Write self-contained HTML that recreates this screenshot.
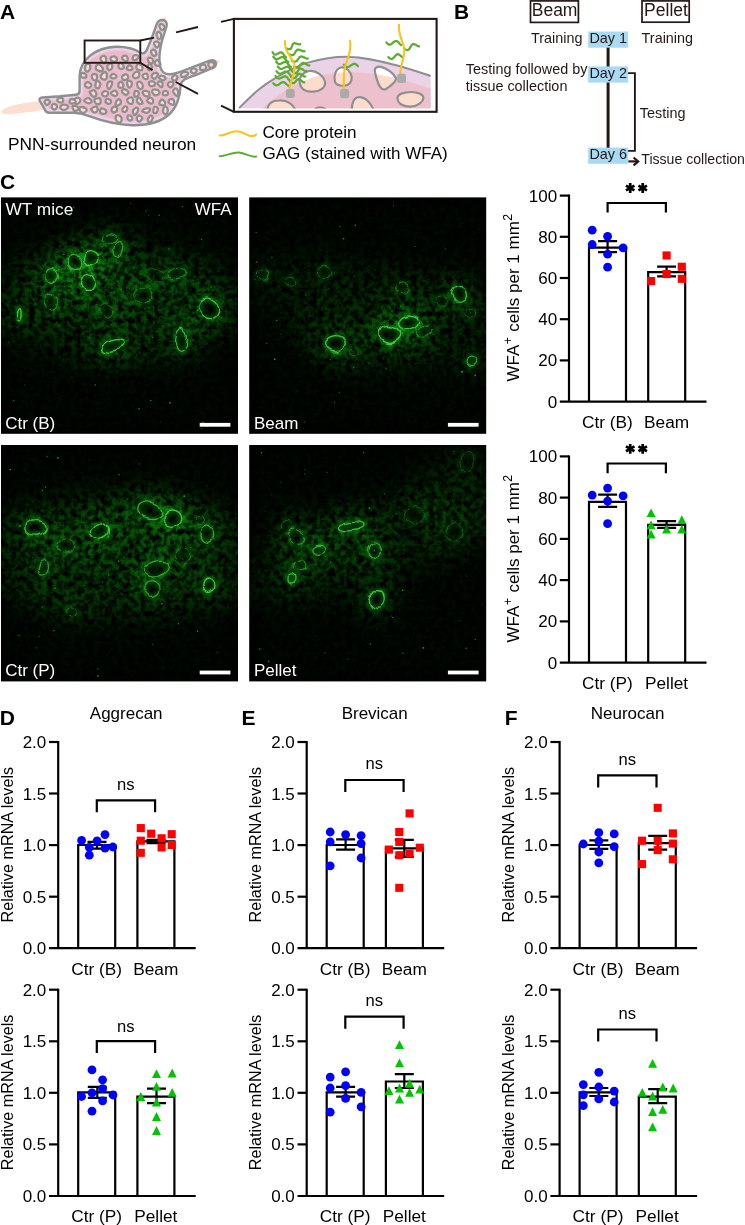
<!DOCTYPE html>
<html><head><meta charset="utf-8"><title>Figure</title>
<style>
html,body{margin:0;padding:0;background:#fff;}
body{width:745px;height:1225px;overflow:hidden;font-family:"Liberation Sans",sans-serif;}
svg{display:block;will-change:transform;}
svg text{font-family:"Liberation Sans",sans-serif;}
</style></head><body>
<svg width="745" height="1225" viewBox="0 0 745 1225">
<defs>
<clipPath id="neuclip"><path d="M42.4 97.5 L60 96.3 L76 94.8 Q79.5 94.4 79.6 91 L79.6 76 C80 60 95 47.5 116 46.7 C126 46.5 134 48.5 140.5 52.8 Q144 54.6 146.3 51 L151.8 38 L156.6 24.5 Q158.2 20 162 20 Q167.6 20.3 166.7 26 L161.6 42 C158.8 55 157.6 67 163.4 72.4 C168 76.2 176 73.5 185 70 L209.6 60.7 Q215.8 58.9 216.0 63.9 Q215.8 67.2 211.5 68.5 L195 75.3 C186 78.5 181 80 180.5 86 C180.5 97 176 108 169 114.5 C160 122.5 146 125.5 132 125.2 C115 124.5 100 120 90 116.3 C84 114 80 113 74 112.8 L49.5 112.7 Q46.4 112.8 45.2 110.2 L39.7 100.6 Q38.4 97.8 42.4 97.5 Z"/></clipPath>
<clipPath id="insclip"><rect x="238.6" y="19" width="192.2" height="89.6"/></clipPath>
<clipPath id="pinkclip"><path d="M262 108.8 C275 97 285 90 297.5 84 C312 77 325 73 345 72.3 C360 72 370 73.5 378 74.4 C395 77 415 83 430.8 89 L430.8 108.8Z"/></clipPath>
<clipPath id="mc1"><rect x="1.0" y="197.4" width="237.0" height="236.4"/></clipPath>
<filter id="mg1" filterUnits="userSpaceOnUse" x="1.0" y="197.4" width="237.0" height="236.4" color-interpolation-filters="sRGB"><feGaussianBlur in="SourceGraphic" stdDeviation="13" result="m"/><feTurbulence type="fractalNoise" baseFrequency="0.17" numOctaves="3" seed="3" result="t"/><feColorMatrix in="t" type="matrix" values="0 0.256 0 0 -0.090  0 3.2 0 0 -1.12  0 0.256 0 0 -0.090  0 0 0 0 1" result="n1"/><feTurbulence type="turbulence" baseFrequency="0.11" numOctaves="2" seed="8" result="t2"/><feColorMatrix in="t2" type="matrix" values="0 -0.2 0 0 0.07  0 -2.6 0 0 0.86  0 -0.2 0 0 0.07  0 0 0 0 1" result="n2"/><feComposite in="n1" in2="n2" operator="arithmetic" k1="0" k2="0.8" k3="0.55" k4="0" result="n"/><feComposite in="n" in2="m" operator="arithmetic" k1="1" k2="0" k3="0" k4="0" result="g"/><feGaussianBlur in="g" stdDeviation="0.55"/></filter>
<filter id="wob1" filterUnits="userSpaceOnUse" x="1.0" y="197.4" width="237.0" height="236.4" color-interpolation-filters="sRGB"><feTurbulence type="fractalNoise" baseFrequency="0.045" numOctaves="2" seed="14" result="t"/><feDisplacementMap in="SourceGraphic" in2="t" scale="9" xChannelSelector="R" yChannelSelector="G" result="d"/><feGaussianBlur in="d" stdDeviation="0.7"/></filter>
<filter id="halo1" filterUnits="userSpaceOnUse" x="1.0" y="197.4" width="237.0" height="236.4" color-interpolation-filters="sRGB"><feTurbulence type="fractalNoise" baseFrequency="0.045" numOctaves="2" seed="14" result="t"/><feDisplacementMap in="SourceGraphic" in2="t" scale="9" xChannelSelector="R" yChannelSelector="G" result="d"/><feGaussianBlur in="d" stdDeviation="2.0"/></filter>
<clipPath id="mc2"><rect x="249.2" y="197.4" width="237.0" height="236.4"/></clipPath>
<filter id="mg2" filterUnits="userSpaceOnUse" x="249.2" y="197.4" width="237.0" height="236.4" color-interpolation-filters="sRGB"><feGaussianBlur in="SourceGraphic" stdDeviation="13" result="m"/><feTurbulence type="fractalNoise" baseFrequency="0.17" numOctaves="3" seed="8" result="t"/><feColorMatrix in="t" type="matrix" values="0 0.256 0 0 -0.092  0 3.2 0 0 -1.15  0 0.256 0 0 -0.092  0 0 0 0 1" result="n1"/><feTurbulence type="turbulence" baseFrequency="0.11" numOctaves="2" seed="13" result="t2"/><feColorMatrix in="t2" type="matrix" values="0 -0.2 0 0 0.07  0 -2.6 0 0 0.86  0 -0.2 0 0 0.07  0 0 0 0 1" result="n2"/><feComposite in="n1" in2="n2" operator="arithmetic" k1="0" k2="0.8" k3="0.55" k4="0" result="n"/><feComposite in="n" in2="m" operator="arithmetic" k1="1" k2="0" k3="0" k4="0" result="g"/><feGaussianBlur in="g" stdDeviation="0.55"/></filter>
<filter id="wob2" filterUnits="userSpaceOnUse" x="249.2" y="197.4" width="237.0" height="236.4" color-interpolation-filters="sRGB"><feTurbulence type="fractalNoise" baseFrequency="0.045" numOctaves="2" seed="19" result="t"/><feDisplacementMap in="SourceGraphic" in2="t" scale="9" xChannelSelector="R" yChannelSelector="G" result="d"/><feGaussianBlur in="d" stdDeviation="0.7"/></filter>
<filter id="halo2" filterUnits="userSpaceOnUse" x="249.2" y="197.4" width="237.0" height="236.4" color-interpolation-filters="sRGB"><feTurbulence type="fractalNoise" baseFrequency="0.045" numOctaves="2" seed="19" result="t"/><feDisplacementMap in="SourceGraphic" in2="t" scale="9" xChannelSelector="R" yChannelSelector="G" result="d"/><feGaussianBlur in="d" stdDeviation="2.0"/></filter>
<clipPath id="mc3"><rect x="1.0" y="445.0" width="237.0" height="236.4"/></clipPath>
<filter id="mg3" filterUnits="userSpaceOnUse" x="1.0" y="445.0" width="237.0" height="236.4" color-interpolation-filters="sRGB"><feGaussianBlur in="SourceGraphic" stdDeviation="13" result="m"/><feTurbulence type="fractalNoise" baseFrequency="0.17" numOctaves="3" seed="21" result="t"/><feColorMatrix in="t" type="matrix" values="0 0.256 0 0 -0.090  0 3.2 0 0 -1.12  0 0.256 0 0 -0.090  0 0 0 0 1" result="n1"/><feTurbulence type="turbulence" baseFrequency="0.11" numOctaves="2" seed="26" result="t2"/><feColorMatrix in="t2" type="matrix" values="0 -0.2 0 0 0.07  0 -2.6 0 0 0.86  0 -0.2 0 0 0.07  0 0 0 0 1" result="n2"/><feComposite in="n1" in2="n2" operator="arithmetic" k1="0" k2="0.8" k3="0.55" k4="0" result="n"/><feComposite in="n" in2="m" operator="arithmetic" k1="1" k2="0" k3="0" k4="0" result="g"/><feGaussianBlur in="g" stdDeviation="0.55"/></filter>
<filter id="wob3" filterUnits="userSpaceOnUse" x="1.0" y="445.0" width="237.0" height="236.4" color-interpolation-filters="sRGB"><feTurbulence type="fractalNoise" baseFrequency="0.045" numOctaves="2" seed="32" result="t"/><feDisplacementMap in="SourceGraphic" in2="t" scale="9" xChannelSelector="R" yChannelSelector="G" result="d"/><feGaussianBlur in="d" stdDeviation="0.7"/></filter>
<filter id="halo3" filterUnits="userSpaceOnUse" x="1.0" y="445.0" width="237.0" height="236.4" color-interpolation-filters="sRGB"><feTurbulence type="fractalNoise" baseFrequency="0.045" numOctaves="2" seed="32" result="t"/><feDisplacementMap in="SourceGraphic" in2="t" scale="9" xChannelSelector="R" yChannelSelector="G" result="d"/><feGaussianBlur in="d" stdDeviation="2.0"/></filter>
<clipPath id="mc4"><rect x="249.2" y="445.0" width="237.0" height="236.4"/></clipPath>
<filter id="mg4" filterUnits="userSpaceOnUse" x="249.2" y="445.0" width="237.0" height="236.4" color-interpolation-filters="sRGB"><feGaussianBlur in="SourceGraphic" stdDeviation="13" result="m"/><feTurbulence type="fractalNoise" baseFrequency="0.17" numOctaves="3" seed="33" result="t"/><feColorMatrix in="t" type="matrix" values="0 0.256 0 0 -0.092  0 3.2 0 0 -1.15  0 0.256 0 0 -0.092  0 0 0 0 1" result="n1"/><feTurbulence type="turbulence" baseFrequency="0.11" numOctaves="2" seed="38" result="t2"/><feColorMatrix in="t2" type="matrix" values="0 -0.2 0 0 0.07  0 -2.6 0 0 0.86  0 -0.2 0 0 0.07  0 0 0 0 1" result="n2"/><feComposite in="n1" in2="n2" operator="arithmetic" k1="0" k2="0.8" k3="0.55" k4="0" result="n"/><feComposite in="n" in2="m" operator="arithmetic" k1="1" k2="0" k3="0" k4="0" result="g"/><feGaussianBlur in="g" stdDeviation="0.55"/></filter>
<filter id="wob4" filterUnits="userSpaceOnUse" x="249.2" y="445.0" width="237.0" height="236.4" color-interpolation-filters="sRGB"><feTurbulence type="fractalNoise" baseFrequency="0.045" numOctaves="2" seed="44" result="t"/><feDisplacementMap in="SourceGraphic" in2="t" scale="9" xChannelSelector="R" yChannelSelector="G" result="d"/><feGaussianBlur in="d" stdDeviation="0.7"/></filter>
<filter id="halo4" filterUnits="userSpaceOnUse" x="249.2" y="445.0" width="237.0" height="236.4" color-interpolation-filters="sRGB"><feTurbulence type="fractalNoise" baseFrequency="0.045" numOctaves="2" seed="44" result="t"/><feDisplacementMap in="SourceGraphic" in2="t" scale="9" xChannelSelector="R" yChannelSelector="G" result="d"/><feGaussianBlur in="d" stdDeviation="2.0"/></filter>
</defs>
<rect width="745" height="1225" fill="#fff"/>
<path d="M1.2 111.8 C1.5 108.6 12 105.2 22 103.5 C30 102.2 38 101.2 44 100.8 L47 109.2 C36 111.2 24 112.8 12 113.9 C5 114.5 1.2 114 1.2 111.8Z" fill="#fbdfd2"/>
<path d="M156.5 22 L165.6 16.3 L167.2 25Z" fill="#fbdfd2"/>
<path d="M212 59.7 L220.6 60.6 L214 67.6Z" fill="#fbdfd2"/>
<path d="M42.4 97.5 L60 96.3 L76 94.8 Q79.5 94.4 79.6 91 L79.6 76 C80 60 95 47.5 116 46.7 C126 46.5 134 48.5 140.5 52.8 Q144 54.6 146.3 51 L151.8 38 L156.6 24.5 Q158.2 20 162 20 Q167.6 20.3 166.7 26 L161.6 42 C158.8 55 157.6 67 163.4 72.4 C168 76.2 176 73.5 185 70 L209.6 60.7 Q215.8 58.9 216.0 63.9 Q215.8 67.2 211.5 68.5 L195 75.3 C186 78.5 181 80 180.5 86 C180.5 97 176 108 169 114.5 C160 122.5 146 125.5 132 125.2 C115 124.5 100 120 90 116.3 C84 114 80 113 74 112.8 L49.5 112.7 Q46.4 112.8 45.2 110.2 L39.7 100.6 Q38.4 97.8 42.4 97.5 Z" fill="#ebbbcb"/>
<path d="M42.4 97.5 L60 96.3 L76 94.8 Q79.5 94.4 79.6 91 L79.6 76 C80 60 95 47.5 116 46.7 C126 46.5 134 48.5 140.5 52.8 Q144 54.6 146.3 51 L151.8 38 L156.6 24.5 Q158.2 20 162 20 Q167.6 20.3 166.7 26 L161.6 42 C158.8 55 157.6 67 163.4 72.4 C168 76.2 176 73.5 185 70 L209.6 60.7 Q215.8 58.9 216.0 63.9 Q215.8 67.2 211.5 68.5 L195 75.3 C186 78.5 181 80 180.5 86 C180.5 97 176 108 169 114.5 C160 122.5 146 125.5 132 125.2 C115 124.5 100 120 90 116.3 C84 114 80 113 74 112.8 L49.5 112.7 Q46.4 112.8 45.2 110.2 L39.7 100.6 Q38.4 97.8 42.4 97.5 Z" fill="none" stroke="#ead2e7" stroke-width="7.5" clip-path="url(#neuclip)"/>
<path d="M104.2 63.4C103.4 63.6 103.3 62.9 102.5 61.9C101.7 60.8 100.3 60.0 100.4 58.7C100.5 57.4 101.6 56.4 102.8 56.0C104.0 55.6 105.0 55.9 105.7 56.9C106.4 57.9 106.4 59.2 106.1 60.7C105.7 62.1 104.9 63.1 104.2 63.4Z" fill="#fbdccd" stroke="#8f8f8f" stroke-width="2.3" stroke-linejoin="round"/>
<path d="M117.1 59.5C117.2 60.6 116.6 60.9 115.4 61.3C114.2 61.6 112.7 61.7 111.6 61.1C110.5 60.4 110.5 59.2 110.5 58.3C110.5 57.4 110.7 57.3 111.7 56.9C112.7 56.6 113.9 56.0 115.0 56.6C116.2 57.1 117.0 58.5 117.1 59.5Z" fill="#fbdccd" stroke="#8f8f8f" stroke-width="2.3" stroke-linejoin="round"/>
<path d="M127.7 60.0C127.4 61.0 126.9 61.3 125.8 61.1C124.7 60.9 123.2 60.2 122.5 59.2C121.8 58.2 122.0 57.4 122.5 56.6C123.0 55.8 123.7 55.6 124.6 55.6C125.6 55.6 126.3 55.5 126.9 56.4C127.6 57.4 127.9 58.9 127.7 60.0Z" fill="#fbdccd" stroke="#8f8f8f" stroke-width="2.3" stroke-linejoin="round"/>
<path d="M133.1 59.7C132.5 59.0 132.6 57.7 133.0 56.7C133.5 55.7 134.0 55.4 135.2 55.2C136.3 55.0 137.5 55.1 138.1 55.7C138.8 56.2 138.6 56.9 138.1 57.8C137.5 58.7 136.7 59.4 135.6 59.9C134.5 60.3 133.6 60.4 133.1 59.7Z" fill="#fbdccd" stroke="#8f8f8f" stroke-width="2.3" stroke-linejoin="round"/>
<path d="M86.5 71.4C85.6 71.1 85.2 70.3 85.0 68.9C84.9 67.5 85.0 66.2 85.8 65.1C86.6 64.0 87.7 63.7 88.7 63.9C89.7 64.1 90.2 64.6 90.3 66.1C90.5 67.5 90.1 69.2 89.3 70.4C88.4 71.6 87.5 71.7 86.5 71.4Z" fill="#fbdccd" stroke="#8f8f8f" stroke-width="2.3" stroke-linejoin="round"/>
<path d="M101.8 71.3C100.7 71.8 99.1 71.0 97.9 70.5C96.6 70.0 96.4 70.0 96.0 69.0C95.6 68.0 95.6 67.0 96.2 66.0C96.7 65.0 97.3 64.0 98.7 64.5C100.2 64.9 102.0 66.6 102.7 68.1C103.3 69.6 102.8 70.8 101.8 71.3Z" fill="#fbdccd" stroke="#8f8f8f" stroke-width="2.3" stroke-linejoin="round"/>
<path d="M108.6 70.0C107.7 69.4 107.2 67.6 107.3 66.3C107.4 64.9 108.1 64.6 109.0 64.0C110.0 63.4 110.8 62.9 111.5 63.5C112.2 64.2 112.3 65.8 112.3 67.0C112.2 68.3 112.1 68.6 111.3 69.2C110.5 69.9 109.5 70.7 108.6 70.0Z" fill="#fbdccd" stroke="#8f8f8f" stroke-width="2.3" stroke-linejoin="round"/>
<path d="M122.1 68.7C121.2 69.1 120.7 69.2 119.9 68.8C119.1 68.3 118.7 68.0 118.5 66.8C118.4 65.7 118.6 64.4 119.2 63.5C119.8 62.7 120.2 62.2 121.2 63.0C122.3 63.8 123.8 65.9 124.0 67.1C124.2 68.4 123.0 68.4 122.1 68.7Z" fill="#fbdccd" stroke="#8f8f8f" stroke-width="2.3" stroke-linejoin="round"/>
<path d="M132.5 68.4C132.5 69.2 132.6 69.6 131.5 69.8C130.3 70.1 128.2 70.0 127.3 69.5C126.3 69.1 126.7 68.6 127.1 67.7C127.5 66.8 128.2 65.6 129.1 65.2C130.1 64.9 130.8 65.5 131.5 66.2C132.2 66.9 132.5 67.6 132.5 68.4Z" fill="#fbdccd" stroke="#8f8f8f" stroke-width="2.3" stroke-linejoin="round"/>
<path d="M141.0 70.3C139.7 70.5 138.1 70.0 137.1 69.2C136.1 68.5 136.1 68.0 136.3 66.9C136.5 65.7 137.0 64.5 138.1 64.1C139.2 63.8 140.4 64.3 141.3 65.2C142.3 66.1 142.7 67.2 142.6 68.3C142.5 69.4 142.2 70.1 141.0 70.3Z" fill="#fbdccd" stroke="#8f8f8f" stroke-width="2.3" stroke-linejoin="round"/>
<path d="M149.6 70.3C148.8 70.4 148.4 70.0 147.9 69.1C147.5 68.3 147.3 67.4 147.6 66.3C148.0 65.2 148.8 64.2 149.6 64.1C150.5 64.0 151.2 64.8 151.7 65.9C152.1 66.9 152.1 67.8 151.6 68.8C151.2 69.8 150.4 70.2 149.6 70.3Z" fill="#fbdccd" stroke="#8f8f8f" stroke-width="2.3" stroke-linejoin="round"/>
<path d="M86.4 76.1C86.5 77.0 86.2 77.5 85.2 77.7C84.1 77.9 82.6 77.7 81.6 77.2C80.6 76.6 80.5 76.1 80.6 75.2C80.6 74.3 80.9 73.6 81.9 73.2C82.8 72.9 83.9 72.9 84.9 73.6C85.9 74.2 86.3 75.2 86.4 76.1Z" fill="#fbdccd" stroke="#8f8f8f" stroke-width="2.3" stroke-linejoin="round"/>
<path d="M95.8 80.4C94.9 81.0 93.8 80.2 92.9 79.4C92.0 78.6 91.9 77.8 91.8 76.7C91.8 75.6 91.7 74.9 92.6 74.4C93.6 73.9 95.1 74.0 96.1 74.4C97.1 74.9 97.2 75.3 97.1 76.6C97.1 77.9 96.7 79.8 95.8 80.4Z" fill="#fbdccd" stroke="#8f8f8f" stroke-width="2.3" stroke-linejoin="round"/>
<path d="M102.5 79.2C101.4 78.7 100.9 78.0 100.8 76.8C100.8 75.6 101.2 74.7 102.3 73.7C103.3 72.7 104.8 71.6 105.8 72.2C106.8 72.9 107.0 75.2 107.0 76.7C106.9 78.2 106.8 78.7 105.8 79.2C104.8 79.8 103.6 79.7 102.5 79.2Z" fill="#fbdccd" stroke="#8f8f8f" stroke-width="2.3" stroke-linejoin="round"/>
<path d="M116.5 76.1C116.6 77.0 115.7 77.8 114.7 78.2C113.7 78.7 112.8 78.4 111.9 78.1C111.0 77.7 110.5 77.3 110.5 76.5C110.5 75.7 111.0 75.0 111.8 74.4C112.6 73.9 113.1 73.6 114.1 74.0C115.1 74.3 116.3 75.2 116.5 76.1Z" fill="#fbdccd" stroke="#8f8f8f" stroke-width="2.3" stroke-linejoin="round"/>
<path d="M124.5 80.2C123.3 80.1 122.6 79.1 122.2 78.1C121.9 77.0 122.2 76.2 123.0 75.3C123.9 74.5 124.9 74.2 126.0 74.3C127.1 74.4 127.5 74.9 127.9 75.8C128.4 76.7 128.7 77.2 128.0 78.2C127.2 79.1 125.8 80.2 124.5 80.2Z" fill="#fbdccd" stroke="#8f8f8f" stroke-width="2.3" stroke-linejoin="round"/>
<path d="M133.6 77.5C132.9 76.8 132.5 76.4 133.0 75.1C133.6 73.8 134.8 72.3 136.1 71.8C137.4 71.2 138.3 71.8 139.0 72.8C139.6 73.8 139.6 75.0 139.0 76.2C138.4 77.4 137.4 77.9 136.2 78.2C135.0 78.4 134.3 78.2 133.6 77.5Z" fill="#fbdccd" stroke="#8f8f8f" stroke-width="2.3" stroke-linejoin="round"/>
<path d="M147.2 78.9C146.3 79.3 144.9 79.2 143.9 78.4C142.9 77.7 142.6 76.5 142.6 75.5C142.7 74.5 143.3 74.3 144.3 74.0C145.2 73.7 146.2 73.5 147.0 74.1C147.8 74.7 147.8 75.6 147.8 76.7C147.9 77.7 148.0 78.5 147.2 78.9Z" fill="#fbdccd" stroke="#8f8f8f" stroke-width="2.3" stroke-linejoin="round"/>
<path d="M152.9 78.1C152.2 77.5 151.5 77.2 151.7 76.0C151.9 74.9 152.7 73.6 154.0 73.1C155.3 72.5 156.7 73.0 157.5 73.5C158.3 74.1 158.1 74.4 157.5 75.6C156.9 76.7 155.8 78.2 154.8 78.8C153.8 79.3 153.6 78.7 152.9 78.1Z" fill="#fbdccd" stroke="#8f8f8f" stroke-width="2.3" stroke-linejoin="round"/>
<path d="M91.3 85.6C90.9 86.5 89.9 87.6 88.8 87.8C87.7 88.1 87.0 87.4 86.2 86.7C85.3 86.1 84.7 86.0 84.9 85.0C85.1 84.0 86.0 82.5 87.2 82.2C88.4 81.9 89.5 82.9 90.4 83.6C91.3 84.4 91.7 84.6 91.3 85.6Z" fill="#fbdccd" stroke="#8f8f8f" stroke-width="2.3" stroke-linejoin="round"/>
<path d="M98.7 88.1C97.7 88.4 96.2 88.3 95.6 87.0C95.0 85.8 95.5 84.0 95.9 82.5C96.3 81.1 96.3 80.4 97.2 80.5C98.2 80.6 99.5 82.0 100.1 83.1C100.7 84.1 100.3 84.2 100.0 85.3C99.7 86.4 99.7 87.7 98.7 88.1Z" fill="#fbdccd" stroke="#8f8f8f" stroke-width="2.3" stroke-linejoin="round"/>
<path d="M108.8 89.0C108.0 88.7 107.3 87.1 107.1 85.7C107.0 84.2 107.3 83.3 108.1 82.4C108.9 81.5 110.0 81.3 110.8 81.5C111.7 81.6 112.2 81.9 112.1 83.2C112.1 84.5 111.4 85.9 110.6 87.2C109.9 88.5 109.6 89.4 108.8 89.0Z" fill="#fbdccd" stroke="#8f8f8f" stroke-width="2.3" stroke-linejoin="round"/>
<path d="M121.0 87.7C120.1 87.8 119.2 87.9 118.7 87.1C118.1 86.2 118.2 85.1 118.5 83.9C118.9 82.8 119.4 82.2 120.3 81.9C121.1 81.6 121.7 81.6 122.4 82.6C123.0 83.7 123.5 85.7 123.2 86.8C122.9 87.9 122.0 87.6 121.0 87.7Z" fill="#fbdccd" stroke="#8f8f8f" stroke-width="2.3" stroke-linejoin="round"/>
<path d="M129.9 87.5C129.0 87.9 128.6 87.3 128.0 86.6C127.5 85.8 127.3 85.1 127.2 83.8C127.1 82.6 126.9 81.6 127.7 81.1C128.5 80.5 130.1 80.6 131.0 81.4C131.9 82.1 132.1 83.2 131.8 84.6C131.6 85.9 130.7 87.0 129.9 87.5Z" fill="#fbdccd" stroke="#8f8f8f" stroke-width="2.3" stroke-linejoin="round"/>
<path d="M140.9 89.0C139.9 89.3 139.2 88.5 138.3 87.4C137.5 86.2 137.0 84.8 137.1 83.6C137.1 82.4 137.8 82.1 138.7 81.8C139.5 81.5 139.9 81.2 140.8 82.2C141.8 83.1 142.8 84.5 142.9 86.0C142.9 87.5 141.9 88.7 140.9 89.0Z" fill="#fbdccd" stroke="#8f8f8f" stroke-width="2.3" stroke-linejoin="round"/>
<path d="M154.9 84.5C154.7 85.4 154.4 85.6 153.4 85.9C152.3 86.2 151.0 86.6 150.0 85.8C149.1 85.1 148.8 83.6 148.9 82.6C149.1 81.6 149.8 81.5 150.9 81.3C152.0 81.2 153.2 81.2 154.1 81.9C155.0 82.6 155.1 83.7 154.9 84.5Z" fill="#fbdccd" stroke="#8f8f8f" stroke-width="2.3" stroke-linejoin="round"/>
<path d="M162.5 86.0C162.1 87.0 161.8 87.3 160.8 86.9C159.7 86.4 158.3 84.8 157.6 83.9C157.0 82.9 157.5 83.0 158.0 82.5C158.5 81.9 158.9 81.2 159.8 81.3C160.8 81.3 161.7 81.7 162.3 82.7C162.9 83.8 162.8 85.1 162.5 86.0Z" fill="#fbdccd" stroke="#8f8f8f" stroke-width="2.3" stroke-linejoin="round"/>
<path d="M167.9 85.1C167.5 84.1 167.7 83.5 168.5 82.8C169.2 82.1 170.3 81.7 171.4 81.8C172.5 81.8 173.2 81.9 173.4 82.9C173.6 83.8 173.1 85.2 172.4 86.2C171.7 87.2 171.2 87.5 170.2 87.3C169.2 87.0 168.3 86.1 167.9 85.1Z" fill="#fbdccd" stroke="#8f8f8f" stroke-width="2.3" stroke-linejoin="round"/>
<path d="M95.9 95.7C95.1 96.4 94.3 97.2 92.9 96.5C91.6 95.8 90.3 93.6 89.9 92.5C89.4 91.3 90.0 91.7 90.9 91.2C91.8 90.7 92.9 89.7 94.0 90.2C95.2 90.6 95.8 91.9 96.2 93.1C96.6 94.3 96.6 94.9 95.9 95.7Z" fill="#fbdccd" stroke="#8f8f8f" stroke-width="2.3" stroke-linejoin="round"/>
<path d="M101.9 93.7C101.9 92.7 103.1 92.0 103.9 91.4C104.7 90.8 104.6 90.9 105.5 91.1C106.4 91.4 108.0 91.7 108.2 92.7C108.5 93.8 107.7 95.0 106.7 95.8C105.8 96.5 105.0 96.6 103.9 96.1C102.9 95.6 101.9 94.7 101.9 93.7Z" fill="#fbdccd" stroke="#8f8f8f" stroke-width="2.3" stroke-linejoin="round"/>
<path d="M117.4 94.0C117.3 95.1 116.2 95.8 115.2 96.1C114.2 96.3 113.9 95.9 113.0 95.2C112.0 94.6 110.8 94.1 110.9 93.2C111.0 92.2 112.4 91.5 113.5 91.0C114.6 90.5 114.9 90.2 115.8 90.8C116.6 91.5 117.5 92.8 117.4 94.0Z" fill="#fbdccd" stroke="#8f8f8f" stroke-width="2.3" stroke-linejoin="round"/>
<path d="M127.4 94.0C126.7 94.6 126.6 95.3 125.5 94.9C124.3 94.4 122.6 93.1 122.1 91.9C121.5 90.7 122.3 90.0 123.0 89.4C123.6 88.9 123.8 88.8 125.0 89.3C126.2 89.9 128.0 91.1 128.5 92.1C129.1 93.2 128.1 93.4 127.4 94.0Z" fill="#fbdccd" stroke="#8f8f8f" stroke-width="2.3" stroke-linejoin="round"/>
<path d="M136.1 96.7C135.1 96.9 134.6 96.8 134.3 95.7C134.0 94.6 134.4 92.8 134.7 91.7C135.0 90.6 134.9 90.6 135.7 90.7C136.5 90.7 137.7 90.8 138.3 91.8C138.9 92.7 139.1 93.8 138.6 94.9C138.1 96.0 137.0 96.6 136.1 96.7Z" fill="#fbdccd" stroke="#8f8f8f" stroke-width="2.3" stroke-linejoin="round"/>
<path d="M148.9 96.1C148.2 96.9 147.3 96.4 146.2 96.2C145.0 95.9 144.4 96.0 143.8 94.9C143.1 93.9 142.4 92.2 143.0 91.4C143.6 90.5 145.2 90.8 146.5 91.0C147.8 91.3 148.6 91.4 149.1 92.5C149.6 93.7 149.5 95.3 148.9 96.1Z" fill="#fbdccd" stroke="#8f8f8f" stroke-width="2.3" stroke-linejoin="round"/>
<path d="M158.7 94.1C157.8 94.9 156.5 95.3 155.4 95.4C154.3 95.5 154.6 95.5 153.9 94.5C153.1 93.6 151.5 92.2 152.0 91.1C152.4 90.0 154.3 89.3 156.0 89.5C157.6 89.6 158.8 90.8 159.4 91.8C160.0 92.8 159.5 93.3 158.7 94.1Z" fill="#fbdccd" stroke="#8f8f8f" stroke-width="2.3" stroke-linejoin="round"/>
<path d="M162.7 93.6C162.7 92.8 162.9 92.1 163.6 91.5C164.4 90.9 165.4 90.8 166.3 91.0C167.2 91.2 167.6 91.6 167.9 92.4C168.2 93.3 168.4 94.1 167.5 94.7C166.6 95.3 164.9 95.4 163.8 95.2C162.7 94.9 162.7 94.4 162.7 93.6Z" fill="#fbdccd" stroke="#8f8f8f" stroke-width="2.3" stroke-linejoin="round"/>
<path d="M177.1 96.1C176.4 96.6 175.7 95.4 174.8 94.3C174.0 93.3 173.1 92.5 173.1 91.3C173.0 90.1 173.8 89.4 174.6 88.8C175.4 88.3 175.9 88.1 176.7 88.8C177.5 89.5 178.1 90.4 178.2 92.0C178.3 93.6 177.8 95.6 177.1 96.1Z" fill="#fbdccd" stroke="#8f8f8f" stroke-width="2.3" stroke-linejoin="round"/>
<path d="M80.3 100.7C80.1 101.8 79.3 102.9 78.0 103.5C76.7 104.0 75.3 103.7 74.4 103.1C73.5 102.5 73.4 101.8 73.8 100.6C74.3 99.5 75.3 98.4 76.5 97.9C77.7 97.4 78.3 97.6 79.2 98.2C80.0 98.9 80.6 99.5 80.3 100.7Z" fill="#fbdccd" stroke="#8f8f8f" stroke-width="2.3" stroke-linejoin="round"/>
<path d="M91.7 101.0C91.8 102.1 90.6 102.8 89.6 103.2C88.6 103.6 88.3 103.3 87.1 102.8C85.9 102.2 84.2 101.6 84.2 100.6C84.2 99.6 86.0 98.8 87.1 98.3C88.2 97.8 88.2 97.8 89.2 98.4C90.2 99.0 91.6 100.0 91.7 101.0Z" fill="#fbdccd" stroke="#8f8f8f" stroke-width="2.3" stroke-linejoin="round"/>
<path d="M100.3 103.2C99.6 104.4 98.2 104.4 96.9 104.1C95.7 103.8 95.3 102.9 94.8 101.9C94.3 100.8 94.0 100.1 94.6 99.3C95.3 98.5 96.6 98.3 97.9 98.3C99.1 98.2 99.7 97.9 100.3 99.0C100.8 100.1 101.0 102.1 100.3 103.2Z" fill="#fbdccd" stroke="#8f8f8f" stroke-width="2.3" stroke-linejoin="round"/>
<path d="M111.1 101.7C110.9 102.6 110.0 103.7 108.9 103.9C107.8 104.1 106.7 103.2 106.0 102.6C105.2 102.1 105.3 102.2 105.5 101.4C105.6 100.6 105.8 99.4 106.7 99.0C107.6 98.6 108.8 99.0 109.7 99.6C110.7 100.2 111.3 100.7 111.1 101.7Z" fill="#fbdccd" stroke="#8f8f8f" stroke-width="2.3" stroke-linejoin="round"/>
<path d="M116.1 105.4C115.3 104.9 115.5 103.6 115.9 102.4C116.2 101.1 116.8 100.3 117.7 99.7C118.6 99.1 119.4 99.1 120.1 99.7C120.8 100.4 121.0 101.5 120.9 102.6C120.8 103.7 120.8 104.0 119.7 104.6C118.7 105.2 116.9 105.9 116.1 105.4Z" fill="#fbdccd" stroke="#8f8f8f" stroke-width="2.3" stroke-linejoin="round"/>
<path d="M129.8 103.8C128.7 103.2 127.8 102.0 127.3 101.0C126.9 99.9 126.8 99.6 127.7 98.8C128.6 98.0 130.3 97.3 131.4 97.4C132.6 97.5 132.7 98.0 132.9 99.4C133.1 100.8 132.9 102.6 132.3 103.6C131.6 104.5 130.9 104.3 129.8 103.8Z" fill="#fbdccd" stroke="#8f8f8f" stroke-width="2.3" stroke-linejoin="round"/>
<path d="M142.1 103.7C141.3 104.0 139.7 104.3 138.6 103.5C137.5 102.8 137.1 101.5 137.0 100.3C136.8 99.1 137.2 98.6 137.9 98.1C138.5 97.6 138.9 97.1 139.9 98.0C140.8 98.9 141.8 100.9 142.3 102.2C142.7 103.4 142.9 103.4 142.1 103.7Z" fill="#fbdccd" stroke="#8f8f8f" stroke-width="2.3" stroke-linejoin="round"/>
<path d="M152.9 102.6C152.4 103.4 152.0 103.8 150.8 103.6C149.5 103.3 148.0 102.3 147.4 101.4C146.7 100.4 147.4 100.1 148.0 99.2C148.7 98.4 149.2 97.5 150.3 97.6C151.4 97.7 152.3 98.5 152.9 99.7C153.4 100.8 153.4 101.7 152.9 102.6Z" fill="#fbdccd" stroke="#8f8f8f" stroke-width="2.3" stroke-linejoin="round"/>
<path d="M162.2 105.4C161.0 105.2 159.8 105.0 159.4 104.0C159.0 103.1 159.7 101.9 160.3 100.9C160.9 99.9 161.2 99.2 162.1 99.3C163.0 99.5 163.9 100.3 164.6 101.5C165.2 102.6 165.4 103.8 164.9 104.6C164.4 105.5 163.4 105.5 162.2 105.4Z" fill="#fbdccd" stroke="#8f8f8f" stroke-width="2.3" stroke-linejoin="round"/>
<path d="M173.2 104.8C172.2 105.0 170.7 104.1 169.6 103.4C168.6 102.7 168.4 102.5 168.5 101.6C168.6 100.7 169.0 99.8 170.1 99.3C171.1 98.9 172.4 98.9 173.3 99.6C174.2 100.3 174.2 101.3 174.2 102.5C174.2 103.6 174.2 104.6 173.2 104.8Z" fill="#fbdccd" stroke="#8f8f8f" stroke-width="2.3" stroke-linejoin="round"/>
<path d="M86.4 110.9C85.7 111.9 84.4 112.9 83.1 113.0C81.8 113.1 81.3 112.5 80.4 111.4C79.6 110.3 79.1 108.9 79.4 108.0C79.7 107.0 80.3 106.9 81.7 107.0C83.2 107.1 85.0 107.6 86.0 108.5C87.0 109.4 87.0 110.0 86.4 110.9Z" fill="#fbdccd" stroke="#8f8f8f" stroke-width="2.3" stroke-linejoin="round"/>
<path d="M92.0 110.5C91.3 109.7 90.6 109.7 91.2 108.9C91.9 108.0 93.8 107.1 95.1 106.7C96.3 106.3 96.3 106.1 96.9 106.9C97.4 107.8 98.0 109.2 97.5 110.4C96.9 111.7 95.6 112.5 94.3 112.6C93.1 112.6 92.7 111.3 92.0 110.5Z" fill="#fbdccd" stroke="#8f8f8f" stroke-width="2.3" stroke-linejoin="round"/>
<path d="M105.5 113.3C104.6 114.0 103.1 113.8 102.0 113.6C100.8 113.5 100.6 113.4 100.3 112.4C99.9 111.5 100.0 110.1 100.5 109.3C101.0 108.4 101.4 108.2 102.6 108.5C103.8 108.8 105.4 109.5 106.1 110.5C106.7 111.6 106.4 112.6 105.5 113.3Z" fill="#fbdccd" stroke="#8f8f8f" stroke-width="2.3" stroke-linejoin="round"/>
<path d="M112.6 112.2C111.9 111.5 111.2 110.5 111.5 109.3C111.9 108.1 112.9 107.0 114.0 106.6C115.0 106.1 115.7 106.4 116.4 107.2C117.1 108.0 117.4 109.1 117.1 110.2C116.7 111.3 115.8 111.7 114.8 112.2C113.8 112.6 113.3 112.8 112.6 112.2Z" fill="#fbdccd" stroke="#8f8f8f" stroke-width="2.3" stroke-linejoin="round"/>
<path d="M123.8 112.0C122.9 111.7 122.2 110.7 122.2 109.6C122.2 108.6 123.0 107.9 123.8 107.2C124.6 106.5 125.2 106.3 125.9 106.5C126.7 106.6 127.1 106.8 127.3 107.8C127.4 108.8 127.3 110.0 126.5 110.9C125.8 111.8 124.8 112.3 123.8 112.0Z" fill="#fbdccd" stroke="#8f8f8f" stroke-width="2.3" stroke-linejoin="round"/>
<path d="M134.2 114.8C133.6 114.2 132.9 112.7 132.8 111.5C132.7 110.4 132.8 110.3 133.7 109.4C134.6 108.5 135.8 107.5 136.8 107.6C137.8 107.7 138.3 108.3 138.1 109.8C137.9 111.3 136.7 113.3 135.8 114.4C135.0 115.4 134.9 115.4 134.2 114.8Z" fill="#fbdccd" stroke="#8f8f8f" stroke-width="2.3" stroke-linejoin="round"/>
<path d="M142.2 110.9C142.5 110.1 143.9 109.2 145.4 108.7C146.9 108.1 148.1 108.0 149.1 108.3C150.1 108.6 150.2 109.0 149.9 109.9C149.7 110.9 149.1 112.0 147.9 112.5C146.7 113.1 145.6 112.8 144.4 112.4C143.1 112.1 142.0 111.7 142.2 110.9Z" fill="#fbdccd" stroke="#8f8f8f" stroke-width="2.3" stroke-linejoin="round"/>
<path d="M154.9 113.2C154.1 113.2 153.7 113.1 153.4 112.1C153.2 111.1 153.2 109.8 153.6 108.6C153.9 107.4 154.1 106.6 155.1 106.7C156.0 106.7 157.4 107.5 157.8 108.7C158.2 109.9 157.6 111.1 156.9 112.1C156.3 113.1 155.7 113.2 154.9 113.2Z" fill="#fbdccd" stroke="#8f8f8f" stroke-width="2.3" stroke-linejoin="round"/>
<path d="M165.0 114.3C164.2 114.0 163.5 113.1 163.1 111.8C162.8 110.5 163.0 109.5 163.5 108.3C164.0 107.2 164.5 106.3 165.4 106.5C166.3 106.7 167.4 108.0 167.7 109.4C168.1 110.9 167.6 112.0 167.0 113.1C166.4 114.1 165.9 114.5 165.0 114.3Z" fill="#fbdccd" stroke="#8f8f8f" stroke-width="2.3" stroke-linejoin="round"/>
<path d="M120.2 122.4C119.4 122.9 118.9 123.0 118.0 122.2C117.0 121.5 116.0 120.4 115.7 118.9C115.5 117.4 115.7 115.8 116.9 115.3C118.0 114.8 119.8 115.7 120.9 116.7C121.9 117.7 121.8 118.6 121.7 119.8C121.5 121.1 121.0 121.9 120.2 122.4Z" fill="#fbdccd" stroke="#8f8f8f" stroke-width="2.3" stroke-linejoin="round"/>
<path d="M132.1 119.2C131.8 120.1 131.0 120.6 130.1 120.6C129.2 120.5 128.5 120.0 127.9 119.1C127.4 118.2 127.4 117.3 127.5 116.5C127.7 115.7 127.7 115.5 128.6 115.5C129.4 115.4 130.6 115.5 131.4 116.3C132.1 117.1 132.4 118.2 132.1 119.2Z" fill="#fbdccd" stroke="#8f8f8f" stroke-width="2.3" stroke-linejoin="round"/>
<path d="M138.7 121.6C137.8 121.2 137.0 120.3 136.8 119.1C136.7 117.9 137.4 116.7 138.0 115.9C138.5 115.2 138.6 115.3 139.5 115.6C140.5 116.0 142.0 116.5 142.3 117.6C142.5 118.7 141.4 119.8 140.6 120.7C139.9 121.6 139.5 121.9 138.7 121.6Z" fill="#fbdccd" stroke="#8f8f8f" stroke-width="2.3" stroke-linejoin="round"/>
<path d="M148.8 121.9C148.0 121.5 147.6 120.8 147.8 119.6C147.9 118.3 148.7 117.1 149.6 116.3C150.4 115.5 150.8 115.5 151.5 115.8C152.2 116.2 152.7 116.8 152.7 118.0C152.6 119.2 152.1 120.4 151.2 121.2C150.4 122.1 149.5 122.3 148.8 121.9Z" fill="#fbdccd" stroke="#8f8f8f" stroke-width="2.3" stroke-linejoin="round"/>
<path d="M48.0 104.5C47.2 105.2 47.1 105.4 46.4 104.8C45.6 104.3 44.5 103.1 44.5 102.0C44.5 100.9 45.5 100.3 46.3 99.9C47.0 99.4 47.2 99.5 48.1 99.9C48.9 100.3 50.0 100.6 50.0 101.7C50.0 102.7 48.8 103.9 48.0 104.5Z" fill="#fbdccd" stroke="#8f8f8f" stroke-width="2.3" stroke-linejoin="round"/>
<path d="M56.5 108.2C56.0 109.1 55.1 109.5 54.2 109.5C53.3 109.6 53.0 109.3 52.4 108.6C51.8 107.9 51.5 107.4 51.7 106.4C51.8 105.4 52.1 104.3 53.2 104.1C54.2 103.8 55.8 104.3 56.6 105.2C57.3 106.2 57.0 107.2 56.5 108.2Z" fill="#fbdccd" stroke="#8f8f8f" stroke-width="2.3" stroke-linejoin="round"/>
<path d="M63.1 101.1C62.9 102.0 62.8 102.5 61.6 102.6C60.5 102.6 58.7 102.1 57.8 101.4C56.9 100.7 57.3 100.1 57.5 99.4C57.7 98.7 57.5 98.4 58.6 98.2C59.7 97.9 61.6 97.7 62.6 98.4C63.6 99.0 63.3 100.2 63.1 101.1Z" fill="#fbdccd" stroke="#8f8f8f" stroke-width="2.3" stroke-linejoin="round"/>
<path d="M68.1 106.8C68.1 107.8 67.2 108.9 65.8 109.5C64.5 110.1 63.1 110.0 61.9 109.5C60.7 109.0 60.2 108.3 60.3 107.2C60.5 106.2 61.4 105.3 62.6 104.8C63.8 104.3 64.7 104.5 66.0 104.9C67.2 105.4 68.1 105.8 68.1 106.8Z" fill="#fbdccd" stroke="#8f8f8f" stroke-width="2.3" stroke-linejoin="round"/>
<path d="M75.5 102.3C75.1 103.0 74.1 103.2 72.9 103.4C71.7 103.6 70.6 103.8 70.0 103.0C69.3 102.3 69.6 100.9 70.0 100.0C70.3 99.2 70.5 99.0 71.6 99.0C72.7 99.0 74.1 99.5 75.0 100.2C75.8 101.0 76.0 101.7 75.5 102.3Z" fill="#fbdccd" stroke="#8f8f8f" stroke-width="2.3" stroke-linejoin="round"/>
<path d="M78.6 108.9C78.3 109.9 76.8 110.6 75.7 110.9C74.6 111.2 74.3 111.2 73.6 110.2C73.0 109.2 72.4 107.3 72.6 106.3C72.8 105.3 73.5 105.8 74.5 105.8C75.4 105.8 76.0 105.7 76.9 106.4C77.8 107.1 78.9 107.9 78.6 108.9Z" fill="#fbdccd" stroke="#8f8f8f" stroke-width="2.3" stroke-linejoin="round"/>
<path d="M162.7 29.9C161.8 30.3 161.6 30.2 160.8 29.3C160.1 28.5 159.5 27.1 159.4 26.0C159.3 24.8 159.8 24.4 160.5 24.1C161.2 23.8 161.8 23.7 162.7 24.5C163.7 25.2 164.8 26.2 164.7 27.4C164.7 28.6 163.5 29.5 162.7 29.9Z" fill="#fbdccd" stroke="#8f8f8f" stroke-width="2.3" stroke-linejoin="round"/>
<path d="M159.4 39.2C158.7 39.4 158.5 39.3 157.9 38.2C157.3 37.1 156.4 35.6 156.5 34.2C156.6 32.9 157.4 32.1 158.4 32.0C159.3 31.9 160.2 32.6 160.9 33.8C161.5 34.9 161.4 36.0 161.1 37.2C160.8 38.4 160.1 39.0 159.4 39.2Z" fill="#fbdccd" stroke="#8f8f8f" stroke-width="2.3" stroke-linejoin="round"/>
<path d="M157.4 47.4C156.6 47.9 156.5 47.5 155.7 46.6C155.0 45.8 154.1 44.6 154.0 43.5C153.9 42.4 154.4 42.1 155.3 41.7C156.2 41.3 157.1 41.1 158.0 41.8C158.9 42.4 159.5 43.3 159.3 44.6C159.2 45.8 158.2 47.0 157.4 47.4Z" fill="#fbdccd" stroke="#8f8f8f" stroke-width="2.3" stroke-linejoin="round"/>
<path d="M156.1 55.3C155.5 55.8 154.6 56.5 153.5 55.7C152.3 55.0 151.2 53.2 151.0 51.9C150.8 50.6 151.7 50.2 152.6 49.8C153.4 49.4 154.0 49.3 154.9 50.1C155.7 50.9 156.0 52.3 156.3 53.4C156.6 54.6 156.8 54.8 156.1 55.3Z" fill="#fbdccd" stroke="#8f8f8f" stroke-width="2.3" stroke-linejoin="round"/>
<path d="M152.5 62.7C152.1 63.5 151.5 63.7 150.6 63.4C149.7 63.1 148.9 62.5 148.4 61.4C147.8 60.3 147.5 59.1 148.1 58.4C148.7 57.6 150.1 57.7 151.1 58.0C152.2 58.3 152.5 58.7 152.8 59.8C153.1 60.8 153.0 61.9 152.5 62.7Z" fill="#fbdccd" stroke="#8f8f8f" stroke-width="2.3" stroke-linejoin="round"/>
<path d="M158.9 65.8C157.8 66.0 156.4 65.7 155.5 65.0C154.6 64.4 154.5 63.9 154.8 62.8C155.0 61.7 156.0 60.6 156.8 60.1C157.7 59.6 157.7 59.6 158.5 60.6C159.3 61.5 160.3 63.1 160.4 64.2C160.5 65.4 160.0 65.7 158.9 65.8Z" fill="#fbdccd" stroke="#8f8f8f" stroke-width="2.3" stroke-linejoin="round"/>
<path d="M164.8 79.3C164.2 79.9 164.1 80.5 163.0 80.3C161.8 80.1 160.4 79.3 159.6 78.5C158.8 77.7 158.8 77.4 159.2 76.8C159.7 76.1 160.3 75.4 161.7 75.6C163.1 75.7 164.8 76.7 165.4 77.5C166.1 78.3 165.3 78.7 164.8 79.3Z" fill="#fbdccd" stroke="#8f8f8f" stroke-width="2.3" stroke-linejoin="round"/>
<path d="M177.3 76.5C177.7 77.3 177.5 78.1 176.9 79.0C176.3 79.9 175.5 80.8 174.4 80.7C173.4 80.6 172.4 79.6 172.1 78.6C171.8 77.6 172.3 76.9 173.0 76.1C173.7 75.4 174.2 75.0 175.1 75.1C176.1 75.2 176.9 75.6 177.3 76.5Z" fill="#fbdccd" stroke="#8f8f8f" stroke-width="2.3" stroke-linejoin="round"/>
<path d="M188.1 73.1C188.3 73.9 187.8 74.6 186.7 75.5C185.6 76.4 184.3 77.2 183.1 77.2C181.8 77.1 181.1 76.3 180.9 75.2C180.8 74.2 181.5 73.2 182.5 72.4C183.5 71.7 184.4 71.6 185.6 71.8C186.8 71.9 187.8 72.3 188.1 73.1Z" fill="#fbdccd" stroke="#8f8f8f" stroke-width="2.3" stroke-linejoin="round"/>
<path d="M196.8 70.3C197.2 71.2 196.4 71.8 195.6 72.5C194.8 73.2 194.2 73.6 193.3 73.4C192.3 73.3 191.5 72.8 191.1 71.8C190.7 70.9 191.0 69.9 191.6 69.1C192.2 68.3 192.9 68.1 194.0 68.4C195.2 68.6 196.5 69.4 196.8 70.3Z" fill="#fbdccd" stroke="#8f8f8f" stroke-width="2.3" stroke-linejoin="round"/>
<path d="M205.7 65.9C206.2 66.9 206.8 68.1 205.9 69.0C205.0 70.0 202.9 70.2 201.7 70.2C200.4 70.3 200.4 70.2 200.2 69.2C199.9 68.2 199.8 66.7 200.6 65.7C201.3 64.7 202.6 64.6 203.7 64.7C204.9 64.7 205.3 65.0 205.7 65.9Z" fill="#fbdccd" stroke="#8f8f8f" stroke-width="2.3" stroke-linejoin="round"/>
<path d="M214.0 63.1C214.5 64.0 214.3 65.3 213.6 66.3C212.9 67.4 212.0 68.0 210.9 67.8C209.8 67.7 209.1 66.7 208.6 65.7C208.1 64.6 208.1 64.0 208.6 63.2C209.1 62.4 209.7 62.0 210.9 61.9C212.1 61.9 213.4 62.1 214.0 63.1Z" fill="#fbdccd" stroke="#8f8f8f" stroke-width="2.3" stroke-linejoin="round"/>
<path d="M42.4 97.5 L60 96.3 L76 94.8 Q79.5 94.4 79.6 91 L79.6 76 C80 60 95 47.5 116 46.7 C126 46.5 134 48.5 140.5 52.8 Q144 54.6 146.3 51 L151.8 38 L156.6 24.5 Q158.2 20 162 20 Q167.6 20.3 166.7 26 L161.6 42 C158.8 55 157.6 67 163.4 72.4 C168 76.2 176 73.5 185 70 L209.6 60.7 Q215.8 58.9 216.0 63.9 Q215.8 67.2 211.5 68.5 L195 75.3 C186 78.5 181 80 180.5 86 C180.5 97 176 108 169 114.5 C160 122.5 146 125.5 132 125.2 C115 124.5 100 120 90 116.3 C84 114 80 113 74 112.8 L49.5 112.7 Q46.4 112.8 45.2 110.2 L39.7 100.6 Q38.4 97.8 42.4 97.5 Z" fill="none" stroke="#8f8f8f" stroke-width="2.4" stroke-linejoin="round"/>
<rect x="84.6" y="40.5" width="55.7" height="22.3" fill="none" stroke="#231815" stroke-width="1.9"/>
<path d="M140.3 40.5 L154.2 37.6 M176 32.3 L198 27 M221 21.9 L233.9 18.9 M140.3 62.8 L152.6 70.1 M175.7 82 L198 93.8 M221 105.6 L233.9 111.8" stroke="#231815" stroke-width="1.9" fill="none"/>
<g clip-path="url(#insclip)">
<path d="M238.7 108.5 C255 92 262 86 273.3 79.3 C290 69.5 300 64.5 308.8 62.4 C322 58.5 335 56.7 346 56.7 C365 57 380 61 394.4 64.8 C410 69 420 72.5 430.8 76 L430.8 108.8 L238.7 108.8Z" fill="#ead2e7"/>
<path d="M262 108.8 C275 97 285 90 297.5 84 C312 77 325 73 345 72.3 C360 72 370 73.5 378 74.4 C395 77 415 83 430.8 89 L430.8 108.8Z" fill="#ecc0cc"/>
<path d="M238.7 108.5 C255 92 262 86 273.3 79.3 C290 69.5 300 64.5 308.8 62.4 C322 58.5 335 56.7 346 56.7 C365 57 380 61 394.4 64.8 C410 69 420 72.5 430.8 76" fill="none" stroke="#8f8f8f" stroke-width="2"/>
<path d="M300 84 C298 78 303 72 309 71 C316 70 324 76 325 82 C326 88 319 92 312 91.5 C306 92 301 89 300 84Z" fill="#fff"/>
<path d="M267.5 112 C266.5 104 272 100.5 279 100.5 C287 100 294 104 296 112Z" fill="#fff"/>
<path d="M335 82 C333 76 336 68.5 341 67.5 C346 66.5 351 72 351.7 77 C352 82 349 85.5 344 85.7 C340 86 336.5 85 335 82Z" fill="#fff"/>
<path d="M375 72 C374 68 377 66 381 66.8 C387 68 394 74 396 78 C396.5 81 391 86 386 89 C383 90.5 380 88 378.5 84 C377 80 375.5 76 375 72Z" fill="#fff"/>
<path d="M397.5 99 C397 94 404 92 411 92 C418 92 423.5 94.5 423.4 98 C423 102 417 106.6 410 106.6 C403 106.6 398 103.5 397.5 99Z" fill="#fff"/>
<path d="M352 113 C351 103 354 97.5 359 97.2 C365 97 372 103 374.5 113Z" fill="#fff"/>
<path d="M314 111 C316 106.2 324 106.2 327 111Z" fill="#fff"/>
<g clip-path="url(#pinkclip)">
<path d="M300 84 C298 78 303 72 309 71 C316 70 324 76 325 82 C326 88 319 92 312 91.5 C306 92 301 89 300 84Z" fill="#fbdccd"/>
<path d="M267.5 112 C266.5 104 272 100.5 279 100.5 C287 100 294 104 296 112Z" fill="#fbdccd"/>
<path d="M335 82 C333 76 336 68.5 341 67.5 C346 66.5 351 72 351.7 77 C352 82 349 85.5 344 85.7 C340 86 336.5 85 335 82Z" fill="#fbdccd"/>
<path d="M375 72 C374 68 377 66 381 66.8 C387 68 394 74 396 78 C396.5 81 391 86 386 89 C383 90.5 380 88 378.5 84 C377 80 375.5 76 375 72Z" fill="#fbdccd"/>
<path d="M397.5 99 C397 94 404 92 411 92 C418 92 423.5 94.5 423.4 98 C423 102 417 106.6 410 106.6 C403 106.6 398 103.5 397.5 99Z" fill="#fbdccd"/>
<path d="M352 113 C351 103 354 97.5 359 97.2 C365 97 372 103 374.5 113Z" fill="#fbdccd"/>
<path d="M314 111 C316 106.2 324 106.2 327 111Z" fill="#fbdccd"/>
</g>
<path d="M300 84 C298 78 303 72 309 71 C316 70 324 76 325 82 C326 88 319 92 312 91.5 C306 92 301 89 300 84Z" fill="none" stroke="#8f8f8f" stroke-width="2.2"/>
<path d="M267.5 112 C266.5 104 272 100.5 279 100.5 C287 100 294 104 296 112Z" fill="none" stroke="#8f8f8f" stroke-width="2.2"/>
<path d="M335 82 C333 76 336 68.5 341 67.5 C346 66.5 351 72 351.7 77 C352 82 349 85.5 344 85.7 C340 86 336.5 85 335 82Z" fill="none" stroke="#8f8f8f" stroke-width="2.2"/>
<path d="M375 72 C374 68 377 66 381 66.8 C387 68 394 74 396 78 C396.5 81 391 86 386 89 C383 90.5 380 88 378.5 84 C377 80 375.5 76 375 72Z" fill="none" stroke="#8f8f8f" stroke-width="2.2"/>
<path d="M397.5 99 C397 94 404 92 411 92 C418 92 423.5 94.5 423.4 98 C423 102 417 106.6 410 106.6 C403 106.6 398 103.5 397.5 99Z" fill="none" stroke="#8f8f8f" stroke-width="2.2"/>
<path d="M352 113 C351 103 354 97.5 359 97.2 C365 97 372 103 374.5 113Z" fill="none" stroke="#8f8f8f" stroke-width="2.2"/>
<path d="M314 111 C316 106.2 324 106.2 327 111Z" fill="none" stroke="#8f8f8f" stroke-width="2.2"/>
</g>
<path d="M287.0 48.7L287.7 48.9L288.3 49.1L288.9 49.2L289.5 49.2L290.0 49.2L290.5 49.0L290.9 48.6L291.2 48.2L291.5 47.6L291.7 47.0L291.9 46.3L292.2 45.7L292.4 45.0L292.7 44.5L293.0 44.0L293.3 43.6L293.8 43.3L294.2 43.2L294.8 43.2L295.4 43.3L296.0 43.5L296.7 43.7L297.3 43.9L298.0 44.1L298.6 44.3L299.2 44.3L299.7 44.3L300.2 44.2 M289.4 54.3L290.1 54.6L290.8 54.9L291.4 55.1L292.0 55.1L292.6 55.1L293.1 55.0L293.6 54.7L294.0 54.3L294.4 53.7L294.8 53.1L295.2 52.5L295.5 51.8L295.9 51.2L296.3 50.7L296.7 50.2L297.2 49.9L297.7 49.7L298.2 49.6L298.8 49.6L299.4 49.8L300.1 50.0L300.8 50.3L301.4 50.6L302.1 50.9L302.8 51.1L303.4 51.3L304.0 51.3L304.5 51.2 M291.8 60.7L292.5 61.1L293.2 61.4L293.9 61.6L294.5 61.7L295.1 61.7L295.6 61.6L296.2 61.3L296.7 61.0L297.1 60.5L297.6 59.9L298.0 59.3L298.4 58.6L298.9 58.0L299.3 57.5L299.8 57.1L300.3 56.7L300.9 56.6L301.5 56.5L302.1 56.6L302.7 56.8L303.4 57.1L304.1 57.4L304.8 57.7L305.4 58.0L306.1 58.3L306.7 58.5L307.3 58.5L307.9 58.5 M294.3 66.4L294.9 66.8L295.5 67.1L296.1 67.4L296.7 67.6L297.2 67.6L297.8 67.6L298.3 67.3L298.8 67.0L299.2 66.5L299.7 66.0L300.1 65.4L300.5 64.8L301.0 64.3L301.4 63.8L301.9 63.4L302.4 63.1L302.9 62.9L303.5 62.9L304.1 63.1L304.6 63.3L305.3 63.6L305.9 64.0L306.5 64.4L307.1 64.8L307.7 65.1L308.3 65.3L308.9 65.4L309.4 65.4 M292.7 72.0L293.2 72.4L293.8 72.8L294.3 73.0L294.9 73.2L295.4 73.3L295.8 73.2L296.3 73.0L296.7 72.6L297.1 72.2L297.5 71.6L297.9 71.0L298.2 70.5L298.6 69.9L299.0 69.4L299.4 69.0L299.8 68.7L300.3 68.6L300.8 68.6L301.3 68.7L301.9 69.0L302.4 69.3L303.0 69.7L303.6 70.1L304.1 70.4L304.7 70.7L305.2 71.0L305.7 71.1L306.2 71.0 M291.0 76.8L291.6 77.3L292.2 77.6L292.7 78.0L293.3 78.2L293.8 78.2L294.3 78.2L294.8 78.0L295.3 77.6L295.7 77.2L296.1 76.7L296.6 76.1L297.0 75.6L297.4 75.0L297.9 74.5L298.3 74.2L298.8 73.9L299.3 73.8L299.8 73.8L300.3 74.0L300.9 74.2L301.5 74.6L302.0 75.0L302.6 75.4L303.2 75.8L303.7 76.2L304.3 76.4L304.8 76.5L305.3 76.5 M290.2 81.7L290.8 82.1L291.3 82.6L291.8 82.9L292.4 83.1L292.9 83.2L293.4 83.2L293.9 83.1L294.4 82.8L294.8 82.4L295.3 81.9L295.8 81.3L296.2 80.8L296.7 80.3L297.1 79.8L297.6 79.5L298.1 79.3L298.6 79.2L299.1 79.3L299.6 79.5L300.2 79.8L300.7 80.1L301.2 80.6L301.8 81.1L302.3 81.5L302.8 81.9L303.4 82.2L303.9 82.3L304.4 82.3 M272.5 52.2L272.9 52.8L273.3 53.4L273.7 53.9L274.2 54.2L274.6 54.5L275.1 54.6L275.7 54.6L276.2 54.5L276.8 54.3L277.4 53.9L278.0 53.6L278.6 53.2L279.2 52.9L279.8 52.6L280.4 52.4L280.9 52.3L281.4 52.4L281.9 52.6L282.4 53.0L282.8 53.4L283.2 53.9L283.6 54.5L284.0 55.1L284.4 55.7L284.8 56.2L285.2 56.7L285.6 57.0L286.1 57.2 M273.3 56.7L273.8 57.3L274.2 57.9L274.7 58.4L275.2 58.8L275.7 59.1L276.2 59.2L276.8 59.2L277.4 59.1L278.1 58.9L278.7 58.6L279.4 58.2L280.0 57.8L280.7 57.5L281.3 57.2L282.0 57.1L282.6 57.0L283.1 57.1L283.6 57.3L284.1 57.7L284.6 58.2L285.1 58.7L285.5 59.3L286.0 59.9L286.4 60.5L286.9 61.0L287.3 61.5L287.9 61.8L288.4 62.0 M276.2 61.5L276.7 62.2L277.1 62.7L277.5 63.2L278.0 63.6L278.5 63.9L279.1 64.0L279.6 64.1L280.2 63.9L280.9 63.7L281.5 63.4L282.1 63.0L282.8 62.7L283.5 62.3L284.1 62.1L284.7 61.9L285.3 61.9L285.8 61.9L286.3 62.2L286.8 62.5L287.3 63.0L287.7 63.5L288.2 64.1L288.6 64.8L289.0 65.3L289.5 65.9L289.9 66.3L290.4 66.6L291.0 66.8 M277.8 66.4L278.3 67.0L278.8 67.6L279.2 68.1L279.7 68.5L280.3 68.7L280.8 68.9L281.4 68.9L282.0 68.8L282.7 68.5L283.3 68.2L284.0 67.9L284.7 67.5L285.4 67.2L286.0 66.9L286.6 66.7L287.2 66.7L287.8 66.8L288.4 67.0L288.9 67.4L289.4 67.8L289.8 68.4L290.3 69.0L290.7 69.6L291.2 70.2L291.7 70.7L292.2 71.2L292.7 71.5L293.2 71.7 M276.5 71.2L277.0 71.8L277.5 72.4L278.0 72.9L278.5 73.3L279.0 73.6L279.6 73.7L280.2 73.7L280.8 73.6L281.5 73.4L282.2 73.1L282.9 72.7L283.5 72.3L284.2 72.0L284.9 71.7L285.5 71.6L286.1 71.5L286.7 71.6L287.3 71.8L287.8 72.2L288.3 72.6L288.8 73.2L289.2 73.8L289.7 74.4L290.2 75.0L290.7 75.5L291.2 76.0L291.7 76.3L292.3 76.5 M275.6 76.0L276.0 76.7L276.5 77.2L277.0 77.7L277.5 78.1L278.0 78.4L278.6 78.5L279.2 78.6L279.8 78.4L280.4 78.2L281.1 77.9L281.8 77.5L282.4 77.2L283.1 76.8L283.8 76.6L284.4 76.4L285.0 76.4L285.6 76.4L286.1 76.7L286.6 77.0L287.1 77.5L287.6 78.0L288.0 78.6L288.5 79.2L288.9 79.8L289.4 80.4L289.9 80.8L290.4 81.1L291.0 81.3 M273.3 83.3L273.9 83.8L274.4 84.3L275.0 84.8L275.6 85.1L276.1 85.3L276.7 85.3L277.3 85.2L277.9 85.0L278.5 84.7L279.2 84.3L279.8 83.8L280.4 83.4L281.0 82.9L281.6 82.6L282.2 82.3L282.8 82.2L283.4 82.2L284.0 82.3L284.6 82.6L285.1 83.0L285.7 83.5L286.2 84.0L286.8 84.5L287.4 85.0L287.9 85.5L288.5 85.9L289.0 86.1L289.6 86.2 M343.9 64.6L344.3 65.1L344.8 65.6L345.3 66.0L345.7 66.4L346.2 66.7L346.7 66.9L347.2 67.0L347.7 67.0L348.2 66.9L348.7 66.7L349.3 66.5L349.8 66.1L350.3 65.8L350.9 65.4L351.5 65.0L352.0 64.7L352.5 64.3L353.1 64.1L353.6 63.9L354.1 63.8L354.6 63.8L355.1 63.9L355.6 64.1L356.1 64.4L356.5 64.8L357.0 65.2L357.5 65.7L357.9 66.2 M386.4 42.4L386.9 43.0L387.4 43.5L387.9 44.0L388.4 44.3L388.9 44.6L389.4 44.7L390.0 44.7L390.5 44.5L391.1 44.3L391.6 43.9L392.2 43.4L392.7 42.9L393.3 42.4L393.9 41.9L394.4 41.5L395.0 41.2L395.5 41.0L396.1 41.0L396.6 41.0L397.1 41.2L397.6 41.6L398.1 42.0L398.6 42.5L399.1 43.1L399.6 43.6L400.1 44.2L400.6 44.7L401.1 45.1 M404.2 48.8L404.9 49.2L405.5 49.5L406.1 49.8L406.7 50.0L407.3 50.0L407.8 50.0L408.3 49.8L408.8 49.4L409.2 49.0L409.6 48.4L410.0 47.8L410.4 47.2L410.7 46.5L411.1 45.9L411.5 45.3L411.9 44.8L412.3 44.5L412.8 44.2L413.3 44.1L413.9 44.1L414.5 44.3L415.1 44.5L415.8 44.8L416.4 45.2L417.1 45.6L417.7 45.9L418.3 46.2L419.0 46.4 M388.3 57.2L388.9 57.7L389.4 58.1L390.0 58.5L390.5 58.8L391.1 59.0L391.6 59.0L392.1 58.9L392.6 58.6L393.1 58.3L393.6 57.8L394.1 57.3L394.5 56.7L395.0 56.1L395.5 55.6L395.9 55.1L396.4 54.7L396.9 54.4L397.4 54.2L397.9 54.2L398.5 54.3L399.0 54.6L399.6 54.9L400.1 55.3L400.7 55.8L401.3 56.3L401.8 56.8L402.4 57.2L403.0 57.5" fill="none" stroke="#5dac32" stroke-width="2.25" stroke-linecap="round" stroke-linejoin="round"/>
<path d="M285 41 C284 50 290 55 294 63 C297 72 290 80 289.6 89.5 M350 40.6 C352 50 348 58 345.5 65 C343 74 344 82 343.9 89.5 M399 24.8 C398 33 402 40 404 47 C406 56 400 64 400.4 74" fill="none" stroke="#f6c41c" stroke-width="2.1" stroke-linecap="round"/>
<rect x="285.9" y="89" width="8.8" height="8.9" rx="2.2" fill="#aaaaaa"/>
<rect x="340.1" y="89" width="9" height="9.3" rx="2.2" fill="#aaaaaa"/>
<rect x="397.2" y="73.7" width="8.8" height="9.2" rx="2.2" fill="#aaaaaa"/>
<rect x="233.9" y="18.9" width="202.7" height="92.9" fill="none" stroke="#231815" stroke-width="2.1"/>
<path d="M219.8 135.6 C226 135.6 230 131 237 131.2 C244 131.5 247 136.2 252 136.2 C254 136.2 255.5 135.2 256.2 134.6" fill="none" stroke="#f6c41c" stroke-width="2" stroke-linecap="round"/>
<path d="M219.8 156.2 C226 156.2 232 152 239 152.4 C246 153 249 157.2 256.2 156.6" fill="none" stroke="#5dac32" stroke-width="2" stroke-linecap="round"/>
<text x="7.90" y="149.50" font-size="17.3" text-anchor="start" font-weight="normal" fill="#000" >PNN-surrounded neuron</text>
<text x="262.50" y="137.50" font-size="17.1" text-anchor="start" font-weight="normal" fill="#000" >Core protein</text>
<text x="262.50" y="159.10" font-size="17" text-anchor="start" font-weight="normal" fill="#000" >GAG (stained with WFA)</text>
<rect x="530.5" y="0.9" width="47.9" height="21.5" fill="#fff" stroke="#231815" stroke-width="1.7"/>
<text x="554.60" y="16.20" font-size="17.5" text-anchor="middle" font-weight="normal" fill="#231815" >Beam</text>
<rect x="642.0" y="0.9" width="47.2" height="21.3" fill="#fff" stroke="#231815" stroke-width="1.7"/>
<text x="666.00" y="16.40" font-size="17.5" text-anchor="middle" font-weight="normal" fill="#231815" >Pellet</text>
<path d="M608.1 46 V150" stroke="#231815" stroke-width="3"/>
<rect x="588.2" y="31.5" width="39.9" height="16.2" fill="#a9daf3"/>
<text x="608.20" y="43.00" font-size="14.4" text-anchor="middle" font-weight="normal" fill="#231815" >Day 1</text>
<rect x="588.2" y="66.4" width="39.9" height="16.2" fill="#a9daf3"/>
<text x="608.20" y="78.00" font-size="14.4" text-anchor="middle" font-weight="normal" fill="#231815" >Day 2</text>
<rect x="588.2" y="147.6" width="39.9" height="16.2" fill="#a9daf3"/>
<text x="608.20" y="159.30" font-size="14.4" text-anchor="middle" font-weight="normal" fill="#231815" >Day 6</text>
<text x="531.00" y="42.90" font-size="14.4" text-anchor="start" font-weight="normal" fill="#231815" >Training</text>
<text x="641.60" y="42.90" font-size="14.4" text-anchor="start" font-weight="normal" fill="#231815" >Training</text>
<text x="465.80" y="73.60" font-size="14.4" text-anchor="start" font-weight="normal" fill="#231815" >Testing followed by</text>
<text x="465.80" y="90.70" font-size="14.4" text-anchor="start" font-weight="normal" fill="#231815" >tissue collection</text>
<text x="639.80" y="118.20" font-size="14.4" text-anchor="start" font-weight="normal" fill="#231815" >Testing</text>
<text x="641.30" y="163.80" font-size="14.1" text-anchor="start" font-weight="normal" fill="#231815" >Tissue collection</text>
<path d="M628.1 73.1 H634.9 V150.9 H628.1" fill="none" stroke="#231815" stroke-width="1.9"/>
<path d="M628.4 161.4 H637.3" stroke="#231815" stroke-width="2.2" fill="none"/>
<path d="M633.6 157.5 L638.2 161.4 L633.6 165.3" stroke="#231815" stroke-width="2.2" fill="none" stroke-linejoin="miter"/>
<rect x="1.0" y="197.4" width="237.0" height="236.4" fill="#000"/>
<g clip-path="url(#mc1)">
<g filter="url(#mg1)">
<rect x="1.0" y="197.4" width="237.0" height="236.4" fill="#fff" opacity="0.03"/>
<ellipse cx="112.8" cy="301.3" rx="128.9" ry="62.8" fill="#fff" opacity="0.132" transform="rotate(0 112.8 301.3)"/>
<ellipse cx="87.0" cy="285.2" rx="54.8" ry="38.7" fill="#fff" opacity="0.132" transform="rotate(0 87.0 285.2)"/>
<ellipse cx="154.6" cy="301.3" rx="45.1" ry="32.2" fill="#fff" opacity="0.084" transform="rotate(0 154.6 301.3)"/>
<ellipse cx="53.2" cy="274.9" rx="14.6" ry="17.1" fill="#fff" opacity="0.22"/>
<ellipse cx="74.1" cy="262.7" rx="15.9" ry="15.9" fill="#fff" opacity="0.22"/>
<ellipse cx="91.2" cy="257.8" rx="19.5" ry="18.3" fill="#fff" opacity="0.27"/>
<ellipse cx="88.6" cy="282.0" rx="18.3" ry="18.9" fill="#fff" opacity="0.27"/>
<ellipse cx="109.5" cy="238.5" rx="18.3" ry="11.6" fill="#fff" opacity="0.16"/>
<ellipse cx="119.2" cy="249.1" rx="11.0" ry="17.7" fill="#fff" opacity="0.19"/>
<ellipse cx="18.7" cy="314.8" rx="7.3" ry="14.6" fill="#fff" opacity="0.27"/>
<ellipse cx="51.5" cy="301.3" rx="16.5" ry="16.5" fill="#fff" opacity="0.15"/>
<ellipse cx="114.4" cy="346.4" rx="27.5" ry="12.8" fill="#fff" opacity="0.27"/>
<ellipse cx="180.4" cy="339.3" rx="14.0" ry="23.8" fill="#fff" opacity="0.23"/>
<ellipse cx="209.4" cy="307.8" rx="20.1" ry="23.8" fill="#fff" opacity="0.26"/>
<ellipse cx="177.2" cy="273.9" rx="21.4" ry="11.6" fill="#fff" opacity="0.14"/>
<ellipse cx="141.8" cy="295.5" rx="20.1" ry="20.1" fill="#fff" opacity="0.12"/>
<ellipse cx="106.3" cy="311.0" rx="15.2" ry="15.2" fill="#fff" opacity="0.11"/>
<ellipse cx="154.6" cy="275.5" rx="21.4" ry="14.0" fill="#fff" opacity="0.08"/>
</g>
<g filter="url(#wob1)"><ellipse cx="53.2" cy="274.9" rx="6.1" ry="7.4" transform="rotate(10 53.2 274.9)" fill="#000" opacity="0.67"/><ellipse cx="74.1" cy="262.7" rx="6.8" ry="6.8" transform="rotate(0 74.1 262.7)" fill="#000" opacity="0.67"/><ellipse cx="91.2" cy="257.8" rx="8.7" ry="8.1" transform="rotate(0 91.2 257.8)" fill="#000" opacity="0.75"/><ellipse cx="88.6" cy="282.0" rx="8.1" ry="8.4" transform="rotate(0 88.6 282.0)" fill="#000" opacity="0.75"/><ellipse cx="109.5" cy="238.5" rx="8.1" ry="4.5" transform="rotate(10 109.5 238.5)" fill="#000" opacity="0.59"/><ellipse cx="119.2" cy="249.1" rx="4.2" ry="7.7" transform="rotate(10 119.2 249.1)" fill="#000" opacity="0.63"/><ellipse cx="18.7" cy="314.8" rx="2.3" ry="6.1" transform="rotate(5 18.7 314.8)" fill="#000" opacity="0.75"/><ellipse cx="51.5" cy="301.3" rx="7.1" ry="7.1" transform="rotate(0 51.5 301.3)" fill="#000" opacity="0.57"/><ellipse cx="114.4" cy="346.4" rx="12.9" ry="5.2" transform="rotate(-12 114.4 346.4)" fill="#000" opacity="0.75"/><ellipse cx="180.4" cy="339.3" rx="5.8" ry="11.0" transform="rotate(5 180.4 339.3)" fill="#000" opacity="0.69"/><ellipse cx="209.4" cy="307.8" rx="9.0" ry="11.0" transform="rotate(-25 209.4 307.8)" fill="#000" opacity="0.73"/><ellipse cx="177.2" cy="273.9" rx="9.7" ry="4.5" transform="rotate(-5 177.2 273.9)" fill="#000" opacity="0.55"/><ellipse cx="141.8" cy="295.5" rx="9.0" ry="9.0" transform="rotate(0 141.8 295.5)" fill="#000" opacity="0.53"/><ellipse cx="106.3" cy="311.0" rx="6.4" ry="6.4" transform="rotate(0 106.3 311.0)" fill="#000" opacity="0.51"/><ellipse cx="154.6" cy="275.5" rx="9.7" ry="5.8" transform="rotate(20 154.6 275.5)" fill="#000" opacity="0.47"/></g>
<g filter="url(#halo1)"><ellipse cx="53.2" cy="274.9" rx="6.1" ry="7.4" transform="rotate(10 53.2 274.9)" fill="none" stroke="#1fae22" stroke-width="4.6" opacity="0.40"/><ellipse cx="74.1" cy="262.7" rx="6.8" ry="6.8" transform="rotate(0 74.1 262.7)" fill="none" stroke="#1fae22" stroke-width="4.6" opacity="0.40"/><ellipse cx="91.2" cy="257.8" rx="8.7" ry="8.1" transform="rotate(0 91.2 257.8)" fill="none" stroke="#1fae22" stroke-width="4.6" opacity="0.50"/><ellipse cx="88.6" cy="282.0" rx="8.1" ry="8.4" transform="rotate(0 88.6 282.0)" fill="none" stroke="#1fae22" stroke-width="4.6" opacity="0.50"/><ellipse cx="109.5" cy="238.5" rx="8.1" ry="4.5" transform="rotate(10 109.5 238.5)" fill="none" stroke="#1fae22" stroke-width="4.6" opacity="0.30"/><ellipse cx="119.2" cy="249.1" rx="4.2" ry="7.7" transform="rotate(10 119.2 249.1)" fill="none" stroke="#1fae22" stroke-width="4.6" opacity="0.35"/><ellipse cx="18.7" cy="314.8" rx="2.3" ry="6.1" transform="rotate(5 18.7 314.8)" fill="none" stroke="#1fae22" stroke-width="4.6" opacity="0.50"/><ellipse cx="51.5" cy="301.3" rx="7.1" ry="7.1" transform="rotate(0 51.5 301.3)" fill="none" stroke="#1fae22" stroke-width="4.6" opacity="0.28"/><ellipse cx="114.4" cy="346.4" rx="12.9" ry="5.2" transform="rotate(-12 114.4 346.4)" fill="none" stroke="#1fae22" stroke-width="4.6" opacity="0.50"/><ellipse cx="180.4" cy="339.3" rx="5.8" ry="11.0" transform="rotate(5 180.4 339.3)" fill="none" stroke="#1fae22" stroke-width="4.6" opacity="0.42"/><ellipse cx="209.4" cy="307.8" rx="9.0" ry="11.0" transform="rotate(-25 209.4 307.8)" fill="none" stroke="#1fae22" stroke-width="4.6" opacity="0.47"/><ellipse cx="177.2" cy="273.9" rx="9.7" ry="4.5" transform="rotate(-5 177.2 273.9)" fill="none" stroke="#1fae22" stroke-width="4.6" opacity="0.25"/><ellipse cx="141.8" cy="295.5" rx="9.0" ry="9.0" transform="rotate(0 141.8 295.5)" fill="none" stroke="#1fae22" stroke-width="4.6" opacity="0.23"/><ellipse cx="106.3" cy="311.0" rx="6.4" ry="6.4" transform="rotate(0 106.3 311.0)" fill="none" stroke="#1fae22" stroke-width="4.6" opacity="0.20"/><ellipse cx="154.6" cy="275.5" rx="9.7" ry="5.8" transform="rotate(20 154.6 275.5)" fill="none" stroke="#1fae22" stroke-width="4.6" opacity="0.15"/></g>
<g filter="url(#wob1)"><ellipse cx="53.2" cy="274.9" rx="6.1" ry="7.4" transform="rotate(10 53.2 274.9)" fill="none" stroke="#46e044" stroke-width="1.24" opacity="0.66"/><ellipse cx="74.1" cy="262.7" rx="6.8" ry="6.8" transform="rotate(0 74.1 262.7)" fill="none" stroke="#46e044" stroke-width="1.24" opacity="0.66"/><ellipse cx="91.2" cy="257.8" rx="8.7" ry="8.1" transform="rotate(0 91.2 257.8)" fill="none" stroke="#46e044" stroke-width="1.35" opacity="0.82"/><ellipse cx="88.6" cy="282.0" rx="8.1" ry="8.4" transform="rotate(0 88.6 282.0)" fill="none" stroke="#46e044" stroke-width="1.35" opacity="0.82"/><ellipse cx="109.5" cy="238.5" rx="8.1" ry="4.5" transform="rotate(10 109.5 238.5)" fill="none" stroke="#46e044" stroke-width="1.13" opacity="0.49" stroke-dasharray="12 3 7 2"/><ellipse cx="119.2" cy="249.1" rx="4.2" ry="7.7" transform="rotate(10 119.2 249.1)" fill="none" stroke="#46e044" stroke-width="1.19" opacity="0.57"/><ellipse cx="18.7" cy="314.8" rx="2.3" ry="6.1" transform="rotate(5 18.7 314.8)" fill="none" stroke="#46e044" stroke-width="1.35" opacity="0.82"/><ellipse cx="51.5" cy="301.3" rx="7.1" ry="7.1" transform="rotate(0 51.5 301.3)" fill="none" stroke="#46e044" stroke-width="1.10" opacity="0.45" stroke-dasharray="12 3 7 2"/><ellipse cx="114.4" cy="346.4" rx="12.9" ry="5.2" transform="rotate(-12 114.4 346.4)" fill="none" stroke="#46e044" stroke-width="1.35" opacity="0.82"/><ellipse cx="180.4" cy="339.3" rx="5.8" ry="11.0" transform="rotate(5 180.4 339.3)" fill="none" stroke="#46e044" stroke-width="1.27" opacity="0.70"/><ellipse cx="209.4" cy="307.8" rx="9.0" ry="11.0" transform="rotate(-25 209.4 307.8)" fill="none" stroke="#46e044" stroke-width="1.32" opacity="0.78"/><ellipse cx="177.2" cy="273.9" rx="9.7" ry="4.5" transform="rotate(-5 177.2 273.9)" fill="none" stroke="#46e044" stroke-width="1.08" opacity="0.41" stroke-dasharray="12 3 7 2"/><ellipse cx="141.8" cy="295.5" rx="9.0" ry="9.0" transform="rotate(0 141.8 295.5)" fill="none" stroke="#46e044" stroke-width="1.05" opacity="0.37" stroke-dasharray="12 3 7 2"/><ellipse cx="106.3" cy="311.0" rx="6.4" ry="6.4" transform="rotate(0 106.3 311.0)" fill="none" stroke="#46e044" stroke-width="1.02" opacity="0.33" stroke-dasharray="12 3 7 2"/><ellipse cx="154.6" cy="275.5" rx="9.7" ry="5.8" transform="rotate(20 154.6 275.5)" fill="none" stroke="#46e044" stroke-width="0.97" opacity="0.25" stroke-dasharray="12 3 7 2"/></g>
<circle cx="59.0" cy="325.8" r="0.6" fill="#3fd43f" opacity="0.58"/><circle cx="148.5" cy="215.5" r="0.4" fill="#3fd43f" opacity="0.71"/><circle cx="63.9" cy="254.4" r="0.9" fill="#3fd43f" opacity="0.51"/><circle cx="197.2" cy="310.2" r="0.7" fill="#3fd43f" opacity="0.33"/><circle cx="150.7" cy="400.4" r="0.7" fill="#3fd43f" opacity="0.66"/><circle cx="159.1" cy="215.2" r="0.8" fill="#3fd43f" opacity="0.58"/><circle cx="73.6" cy="207.5" r="0.8" fill="#3fd43f" opacity="0.51"/><circle cx="170.0" cy="402.9" r="0.8" fill="#3fd43f" opacity="0.76"/><circle cx="95.2" cy="384.9" r="0.6" fill="#3fd43f" opacity="0.76"/><circle cx="207.0" cy="222.9" r="0.5" fill="#3fd43f" opacity="0.37"/><circle cx="227.0" cy="300.9" r="0.7" fill="#3fd43f" opacity="0.42"/><circle cx="121.2" cy="289.3" r="0.6" fill="#3fd43f" opacity="0.57"/><circle cx="139.0" cy="408.7" r="0.7" fill="#3fd43f" opacity="0.76"/><circle cx="201.8" cy="428.7" r="0.7" fill="#3fd43f" opacity="0.34"/><circle cx="202.8" cy="422.7" r="0.9" fill="#3fd43f" opacity="0.56"/><circle cx="168.9" cy="249.0" r="0.8" fill="#3fd43f" opacity="0.57"/><circle cx="69.8" cy="215.0" r="0.8" fill="#3fd43f" opacity="0.79"/><circle cx="24.4" cy="384.9" r="0.6" fill="#3fd43f" opacity="0.33"/><circle cx="71.9" cy="377.5" r="0.8" fill="#3fd43f" opacity="0.27"/><circle cx="146.0" cy="210.8" r="0.8" fill="#3fd43f" opacity="0.43"/><circle cx="207.5" cy="426.3" r="0.7" fill="#3fd43f" opacity="0.80"/><circle cx="75.5" cy="218.1" r="0.7" fill="#3fd43f" opacity="0.27"/><circle cx="49.6" cy="294.4" r="0.7" fill="#3fd43f" opacity="0.34"/><circle cx="13.8" cy="400.3" r="0.6" fill="#3fd43f" opacity="0.78"/><circle cx="211.1" cy="287.4" r="0.6" fill="#3fd43f" opacity="0.54"/><circle cx="152.7" cy="337.6" r="0.7" fill="#3fd43f" opacity="0.59"/><circle cx="221.3" cy="317.2" r="0.6" fill="#3fd43f" opacity="0.65"/><circle cx="58.9" cy="269.8" r="0.9" fill="#3fd43f" opacity="0.54"/><circle cx="130.7" cy="203.0" r="0.6" fill="#3fd43f" opacity="0.57"/><circle cx="8.6" cy="342.3" r="0.7" fill="#3fd43f" opacity="0.28"/><circle cx="148.9" cy="307.8" r="0.7" fill="#3fd43f" opacity="0.44"/><circle cx="167.3" cy="370.4" r="0.4" fill="#3fd43f" opacity="0.28"/><circle cx="160.2" cy="422.3" r="0.5" fill="#3fd43f" opacity="0.50"/><circle cx="140.9" cy="274.1" r="0.6" fill="#3fd43f" opacity="0.42"/><circle cx="89.3" cy="337.6" r="0.6" fill="#3fd43f" opacity="0.46"/><circle cx="182.4" cy="206.6" r="0.7" fill="#3fd43f" opacity="0.65"/><circle cx="75.6" cy="251.7" r="0.8" fill="#3fd43f" opacity="0.38"/><circle cx="47.3" cy="300.7" r="0.7" fill="#3fd43f" opacity="0.31"/><circle cx="78.4" cy="277.3" r="0.8" fill="#3fd43f" opacity="0.49"/><circle cx="201.6" cy="239.4" r="0.6" fill="#3fd43f" opacity="0.61"/>
</g>
<rect x="249.2" y="197.4" width="237.0" height="236.4" fill="#000"/>
<g clip-path="url(#mc2)">
<g filter="url(#mg2)">
<rect x="249.2" y="197.4" width="237.0" height="236.4" fill="#fff" opacity="0.03"/>
<ellipse cx="399.4" cy="320.6" rx="109.5" ry="54.8" fill="#fff" opacity="0.086" transform="rotate(0 399.4 320.6)"/>
<ellipse cx="318.9" cy="291.6" rx="74.1" ry="41.9" fill="#fff" opacity="0.048" transform="rotate(0 318.9 291.6)"/>
<ellipse cx="402.6" cy="323.9" rx="41.9" ry="29.0" fill="#fff" opacity="0.067" transform="rotate(0 402.6 323.9)"/>
<ellipse cx="335.0" cy="344.8" rx="22.6" ry="18.3" fill="#fff" opacity="0.26"/>
<ellipse cx="389.8" cy="333.5" rx="23.8" ry="20.1" fill="#fff" opacity="0.27"/>
<ellipse cx="409.1" cy="321.3" rx="21.4" ry="15.9" fill="#fff" opacity="0.27"/>
<ellipse cx="459.0" cy="294.9" rx="17.1" ry="17.1" fill="#fff" opacity="0.24"/>
<ellipse cx="471.9" cy="361.9" rx="12.2" ry="12.2" fill="#fff" opacity="0.20"/>
<ellipse cx="423.6" cy="331.9" rx="16.5" ry="14.6" fill="#fff" opacity="0.14"/>
<ellipse cx="402.6" cy="288.4" rx="15.2" ry="13.4" fill="#fff" opacity="0.12"/>
<ellipse cx="264.1" cy="275.5" rx="12.2" ry="12.2" fill="#fff" opacity="0.12"/>
<ellipse cx="323.7" cy="272.3" rx="16.5" ry="14.6" fill="#fff" opacity="0.11"/>
<ellipse cx="289.9" cy="281.3" rx="12.2" ry="10.3" fill="#fff" opacity="0.09"/>
<ellipse cx="470.3" cy="312.6" rx="11.6" ry="11.6" fill="#fff" opacity="0.09"/>
<ellipse cx="354.3" cy="352.9" rx="8.5" ry="8.5" fill="#fff" opacity="0.09"/>
<ellipse cx="441.3" cy="301.3" rx="15.2" ry="11.6" fill="#fff" opacity="0.08"/>
</g>
<g filter="url(#wob2)"><ellipse cx="335.0" cy="344.8" rx="10.3" ry="8.1" transform="rotate(-5 335.0 344.8)" fill="#000" opacity="0.73"/><ellipse cx="389.8" cy="333.5" rx="11.0" ry="9.0" transform="rotate(0 389.8 333.5)" fill="#000" opacity="0.75"/><ellipse cx="409.1" cy="321.3" rx="9.7" ry="6.8" transform="rotate(-15 409.1 321.3)" fill="#000" opacity="0.75"/><ellipse cx="459.0" cy="294.9" rx="7.4" ry="7.4" transform="rotate(0 459.0 294.9)" fill="#000" opacity="0.71"/><ellipse cx="471.9" cy="361.9" rx="4.8" ry="4.8" transform="rotate(0 471.9 361.9)" fill="#000" opacity="0.65"/><ellipse cx="423.6" cy="331.9" rx="7.1" ry="6.1" transform="rotate(0 423.6 331.9)" fill="#000" opacity="0.55"/><ellipse cx="402.6" cy="288.4" rx="6.4" ry="5.5" transform="rotate(0 402.6 288.4)" fill="#000" opacity="0.53"/><ellipse cx="264.1" cy="275.5" rx="4.8" ry="4.8" transform="rotate(0 264.1 275.5)" fill="#000" opacity="0.53"/><ellipse cx="323.7" cy="272.3" rx="7.1" ry="6.1" transform="rotate(0 323.7 272.3)" fill="#000" opacity="0.51"/><ellipse cx="289.9" cy="281.3" rx="4.8" ry="3.9" transform="rotate(0 289.9 281.3)" fill="#000" opacity="0.49"/><ellipse cx="470.3" cy="312.6" rx="4.5" ry="4.5" transform="rotate(0 470.3 312.6)" fill="#000" opacity="0.49"/><ellipse cx="354.3" cy="352.9" rx="2.9" ry="2.9" transform="rotate(0 354.3 352.9)" fill="#000" opacity="0.49"/><ellipse cx="441.3" cy="301.3" rx="6.4" ry="4.5" transform="rotate(30 441.3 301.3)" fill="#000" opacity="0.47"/></g>
<g filter="url(#halo2)"><ellipse cx="335.0" cy="344.8" rx="10.3" ry="8.1" transform="rotate(-5 335.0 344.8)" fill="none" stroke="#1fae22" stroke-width="4.6" opacity="0.47"/><ellipse cx="389.8" cy="333.5" rx="11.0" ry="9.0" transform="rotate(0 389.8 333.5)" fill="none" stroke="#1fae22" stroke-width="4.6" opacity="0.50"/><ellipse cx="409.1" cy="321.3" rx="9.7" ry="6.8" transform="rotate(-15 409.1 321.3)" fill="none" stroke="#1fae22" stroke-width="4.6" opacity="0.50"/><ellipse cx="459.0" cy="294.9" rx="7.4" ry="7.4" transform="rotate(0 459.0 294.9)" fill="none" stroke="#1fae22" stroke-width="4.6" opacity="0.45"/><ellipse cx="471.9" cy="361.9" rx="4.8" ry="4.8" transform="rotate(0 471.9 361.9)" fill="none" stroke="#1fae22" stroke-width="4.6" opacity="0.38"/><ellipse cx="423.6" cy="331.9" rx="7.1" ry="6.1" transform="rotate(0 423.6 331.9)" fill="none" stroke="#1fae22" stroke-width="4.6" opacity="0.25"/><ellipse cx="402.6" cy="288.4" rx="6.4" ry="5.5" transform="rotate(0 402.6 288.4)" fill="none" stroke="#1fae22" stroke-width="4.6" opacity="0.23"/><ellipse cx="264.1" cy="275.5" rx="4.8" ry="4.8" transform="rotate(0 264.1 275.5)" fill="none" stroke="#1fae22" stroke-width="4.6" opacity="0.23"/><ellipse cx="323.7" cy="272.3" rx="7.1" ry="6.1" transform="rotate(0 323.7 272.3)" fill="none" stroke="#1fae22" stroke-width="4.6" opacity="0.20"/><ellipse cx="289.9" cy="281.3" rx="4.8" ry="3.9" transform="rotate(0 289.9 281.3)" fill="none" stroke="#1fae22" stroke-width="4.6" opacity="0.17"/><ellipse cx="470.3" cy="312.6" rx="4.5" ry="4.5" transform="rotate(0 470.3 312.6)" fill="none" stroke="#1fae22" stroke-width="4.6" opacity="0.17"/><ellipse cx="354.3" cy="352.9" rx="2.9" ry="2.9" transform="rotate(0 354.3 352.9)" fill="none" stroke="#1fae22" stroke-width="4.6" opacity="0.17"/><ellipse cx="441.3" cy="301.3" rx="6.4" ry="4.5" transform="rotate(30 441.3 301.3)" fill="none" stroke="#1fae22" stroke-width="4.6" opacity="0.15"/></g>
<g filter="url(#wob2)"><ellipse cx="335.0" cy="344.8" rx="10.3" ry="8.1" transform="rotate(-5 335.0 344.8)" fill="none" stroke="#46e044" stroke-width="1.32" opacity="0.78"/><ellipse cx="389.8" cy="333.5" rx="11.0" ry="9.0" transform="rotate(0 389.8 333.5)" fill="none" stroke="#46e044" stroke-width="1.35" opacity="0.82"/><ellipse cx="409.1" cy="321.3" rx="9.7" ry="6.8" transform="rotate(-15 409.1 321.3)" fill="none" stroke="#46e044" stroke-width="1.35" opacity="0.82"/><ellipse cx="459.0" cy="294.9" rx="7.4" ry="7.4" transform="rotate(0 459.0 294.9)" fill="none" stroke="#46e044" stroke-width="1.30" opacity="0.74"/><ellipse cx="471.9" cy="361.9" rx="4.8" ry="4.8" transform="rotate(0 471.9 361.9)" fill="none" stroke="#46e044" stroke-width="1.21" opacity="0.61"/><ellipse cx="423.6" cy="331.9" rx="7.1" ry="6.1" transform="rotate(0 423.6 331.9)" fill="none" stroke="#46e044" stroke-width="1.08" opacity="0.41" stroke-dasharray="12 3 7 2"/><ellipse cx="402.6" cy="288.4" rx="6.4" ry="5.5" transform="rotate(0 402.6 288.4)" fill="none" stroke="#46e044" stroke-width="1.05" opacity="0.37" stroke-dasharray="12 3 7 2"/><ellipse cx="264.1" cy="275.5" rx="4.8" ry="4.8" transform="rotate(0 264.1 275.5)" fill="none" stroke="#46e044" stroke-width="1.05" opacity="0.37" stroke-dasharray="12 3 7 2"/><ellipse cx="323.7" cy="272.3" rx="7.1" ry="6.1" transform="rotate(0 323.7 272.3)" fill="none" stroke="#46e044" stroke-width="1.02" opacity="0.33" stroke-dasharray="12 3 7 2"/><ellipse cx="289.9" cy="281.3" rx="4.8" ry="3.9" transform="rotate(0 289.9 281.3)" fill="none" stroke="#46e044" stroke-width="0.99" opacity="0.29" stroke-dasharray="12 3 7 2"/><ellipse cx="470.3" cy="312.6" rx="4.5" ry="4.5" transform="rotate(0 470.3 312.6)" fill="none" stroke="#46e044" stroke-width="0.99" opacity="0.29" stroke-dasharray="12 3 7 2"/><ellipse cx="354.3" cy="352.9" rx="2.9" ry="2.9" transform="rotate(0 354.3 352.9)" fill="none" stroke="#46e044" stroke-width="0.99" opacity="0.29" stroke-dasharray="12 3 7 2"/><ellipse cx="441.3" cy="301.3" rx="6.4" ry="4.5" transform="rotate(30 441.3 301.3)" fill="none" stroke="#46e044" stroke-width="0.97" opacity="0.25" stroke-dasharray="12 3 7 2"/></g>
<circle cx="304.6" cy="422.1" r="0.5" fill="#3fd43f" opacity="0.64"/><circle cx="271.9" cy="257.4" r="0.9" fill="#3fd43f" opacity="0.37"/><circle cx="400.5" cy="306.2" r="0.6" fill="#3fd43f" opacity="0.52"/><circle cx="296.6" cy="391.8" r="0.4" fill="#3fd43f" opacity="0.38"/><circle cx="256.8" cy="261.9" r="0.6" fill="#3fd43f" opacity="0.75"/><circle cx="339.8" cy="226.6" r="0.5" fill="#3fd43f" opacity="0.80"/><circle cx="266.8" cy="343.3" r="0.6" fill="#3fd43f" opacity="0.61"/><circle cx="330.4" cy="359.7" r="0.6" fill="#3fd43f" opacity="0.61"/><circle cx="460.4" cy="334.4" r="0.5" fill="#3fd43f" opacity="0.29"/><circle cx="470.7" cy="313.0" r="0.5" fill="#3fd43f" opacity="0.77"/><circle cx="385.9" cy="368.3" r="0.8" fill="#3fd43f" opacity="0.41"/><circle cx="334.6" cy="402.7" r="0.5" fill="#3fd43f" opacity="0.67"/><circle cx="274.7" cy="359.4" r="0.8" fill="#3fd43f" opacity="0.77"/><circle cx="447.0" cy="316.4" r="0.5" fill="#3fd43f" opacity="0.33"/><circle cx="374.3" cy="317.9" r="0.4" fill="#3fd43f" opacity="0.75"/><circle cx="369.4" cy="362.0" r="0.5" fill="#3fd43f" opacity="0.38"/><circle cx="255.0" cy="279.5" r="0.5" fill="#3fd43f" opacity="0.48"/><circle cx="339.3" cy="392.6" r="0.8" fill="#3fd43f" opacity="0.35"/><circle cx="343.7" cy="238.7" r="0.7" fill="#3fd43f" opacity="0.79"/><circle cx="298.8" cy="377.0" r="0.6" fill="#3fd43f" opacity="0.26"/><circle cx="428.8" cy="279.2" r="0.5" fill="#3fd43f" opacity="0.49"/><circle cx="305.7" cy="294.9" r="0.6" fill="#3fd43f" opacity="0.48"/><circle cx="388.1" cy="266.9" r="0.4" fill="#3fd43f" opacity="0.30"/><circle cx="276.8" cy="320.4" r="0.6" fill="#3fd43f" opacity="0.69"/><circle cx="368.8" cy="363.6" r="0.9" fill="#3fd43f" opacity="0.28"/><circle cx="256.1" cy="232.7" r="0.6" fill="#3fd43f" opacity="0.57"/><circle cx="424.0" cy="281.4" r="0.9" fill="#3fd43f" opacity="0.25"/><circle cx="445.2" cy="248.8" r="0.8" fill="#3fd43f" opacity="0.27"/><circle cx="475.2" cy="375.4" r="0.9" fill="#3fd43f" opacity="0.57"/><circle cx="293.3" cy="423.9" r="0.6" fill="#3fd43f" opacity="0.30"/><circle cx="392.0" cy="315.0" r="0.6" fill="#3fd43f" opacity="0.33"/><circle cx="280.4" cy="334.2" r="0.6" fill="#3fd43f" opacity="0.32"/><circle cx="353.7" cy="367.6" r="0.8" fill="#3fd43f" opacity="0.51"/><circle cx="343.2" cy="283.5" r="0.5" fill="#3fd43f" opacity="0.36"/><circle cx="355.3" cy="225.3" r="0.8" fill="#3fd43f" opacity="0.64"/><circle cx="393.5" cy="205.6" r="0.6" fill="#3fd43f" opacity="0.49"/><circle cx="273.8" cy="423.4" r="0.8" fill="#3fd43f" opacity="0.53"/><circle cx="415.1" cy="246.6" r="0.5" fill="#3fd43f" opacity="0.54"/><circle cx="424.1" cy="349.5" r="0.4" fill="#3fd43f" opacity="0.59"/><circle cx="462.1" cy="371.7" r="0.9" fill="#3fd43f" opacity="0.79"/>
</g>
<rect x="1.0" y="445.0" width="237.0" height="236.4" fill="#000"/>
<g clip-path="url(#mc3)">
<g filter="url(#mg3)">
<rect x="1.0" y="445.0" width="237.0" height="236.4" fill="#fff" opacity="0.03"/>
<ellipse cx="122.4" cy="555.8" rx="151.4" ry="66.0" fill="#fff" opacity="0.125" transform="rotate(0 122.4 555.8)"/>
<ellipse cx="128.9" cy="539.6" rx="70.9" ry="41.9" fill="#fff" opacity="0.101" transform="rotate(0 128.9 539.6)"/>
<ellipse cx="80.5" cy="594.4" rx="54.8" ry="25.8" fill="#fff" opacity="0.060" transform="rotate(0 80.5 594.4)"/>
<ellipse cx="37.0" cy="528.4" rx="22.6" ry="17.7" fill="#fff" opacity="0.24"/>
<ellipse cx="99.9" cy="531.6" rx="21.4" ry="17.7" fill="#fff" opacity="0.26"/>
<ellipse cx="172.4" cy="518.7" rx="20.8" ry="19.5" fill="#fff" opacity="0.27"/>
<ellipse cx="149.8" cy="510.7" rx="26.3" ry="18.9" fill="#fff" opacity="0.23"/>
<ellipse cx="207.8" cy="534.8" rx="15.9" ry="17.7" fill="#fff" opacity="0.22"/>
<ellipse cx="209.4" cy="584.8" rx="13.4" ry="15.9" fill="#fff" opacity="0.27"/>
<ellipse cx="157.9" cy="568.6" rx="27.5" ry="17.1" fill="#fff" opacity="0.20"/>
<ellipse cx="151.4" cy="589.6" rx="17.7" ry="17.7" fill="#fff" opacity="0.19"/>
<ellipse cx="41.9" cy="567.0" rx="13.4" ry="18.3" fill="#fff" opacity="0.19"/>
<ellipse cx="64.4" cy="546.1" rx="18.3" ry="16.5" fill="#fff" opacity="0.14"/>
<ellipse cx="199.7" cy="520.3" rx="12.2" ry="12.2" fill="#fff" opacity="0.11"/>
<ellipse cx="70.9" cy="610.5" rx="14.0" ry="11.6" fill="#fff" opacity="0.11"/>
<ellipse cx="183.6" cy="555.8" rx="18.3" ry="18.3" fill="#fff" opacity="0.09"/>
</g>
<g filter="url(#wob3)"><ellipse cx="37.0" cy="528.4" rx="10.3" ry="7.7" transform="rotate(-10 37.0 528.4)" fill="#000" opacity="0.71"/><ellipse cx="99.9" cy="531.6" rx="9.7" ry="7.7" transform="rotate(-10 99.9 531.6)" fill="#000" opacity="0.73"/><ellipse cx="172.4" cy="518.7" rx="9.3" ry="8.7" transform="rotate(0 172.4 518.7)" fill="#000" opacity="0.75"/><ellipse cx="149.8" cy="510.7" rx="12.2" ry="8.4" transform="rotate(15 149.8 510.7)" fill="#000" opacity="0.69"/><ellipse cx="207.8" cy="534.8" rx="6.8" ry="7.7" transform="rotate(0 207.8 534.8)" fill="#000" opacity="0.67"/><ellipse cx="209.4" cy="584.8" rx="5.5" ry="6.8" transform="rotate(0 209.4 584.8)" fill="#000" opacity="0.75"/><ellipse cx="157.9" cy="568.6" rx="12.9" ry="7.4" transform="rotate(-20 157.9 568.6)" fill="#000" opacity="0.65"/><ellipse cx="151.4" cy="589.6" rx="7.7" ry="7.7" transform="rotate(0 151.4 589.6)" fill="#000" opacity="0.63"/><ellipse cx="41.9" cy="567.0" rx="5.5" ry="8.1" transform="rotate(10 41.9 567.0)" fill="#000" opacity="0.63"/><ellipse cx="64.4" cy="546.1" rx="8.1" ry="7.1" transform="rotate(0 64.4 546.1)" fill="#000" opacity="0.55"/><ellipse cx="199.7" cy="520.3" rx="4.8" ry="4.8" transform="rotate(0 199.7 520.3)" fill="#000" opacity="0.51"/><ellipse cx="70.9" cy="610.5" rx="5.8" ry="4.5" transform="rotate(0 70.9 610.5)" fill="#000" opacity="0.51"/><ellipse cx="183.6" cy="555.8" rx="8.1" ry="8.1" transform="rotate(0 183.6 555.8)" fill="#000" opacity="0.49"/></g>
<g filter="url(#halo3)"><ellipse cx="37.0" cy="528.4" rx="10.3" ry="7.7" transform="rotate(-10 37.0 528.4)" fill="none" stroke="#1fae22" stroke-width="4.6" opacity="0.45"/><ellipse cx="99.9" cy="531.6" rx="9.7" ry="7.7" transform="rotate(-10 99.9 531.6)" fill="none" stroke="#1fae22" stroke-width="4.6" opacity="0.47"/><ellipse cx="172.4" cy="518.7" rx="9.3" ry="8.7" transform="rotate(0 172.4 518.7)" fill="none" stroke="#1fae22" stroke-width="4.6" opacity="0.50"/><ellipse cx="149.8" cy="510.7" rx="12.2" ry="8.4" transform="rotate(15 149.8 510.7)" fill="none" stroke="#1fae22" stroke-width="4.6" opacity="0.42"/><ellipse cx="207.8" cy="534.8" rx="6.8" ry="7.7" transform="rotate(0 207.8 534.8)" fill="none" stroke="#1fae22" stroke-width="4.6" opacity="0.40"/><ellipse cx="209.4" cy="584.8" rx="5.5" ry="6.8" transform="rotate(0 209.4 584.8)" fill="none" stroke="#1fae22" stroke-width="4.6" opacity="0.50"/><ellipse cx="157.9" cy="568.6" rx="12.9" ry="7.4" transform="rotate(-20 157.9 568.6)" fill="none" stroke="#1fae22" stroke-width="4.6" opacity="0.38"/><ellipse cx="151.4" cy="589.6" rx="7.7" ry="7.7" transform="rotate(0 151.4 589.6)" fill="none" stroke="#1fae22" stroke-width="4.6" opacity="0.35"/><ellipse cx="41.9" cy="567.0" rx="5.5" ry="8.1" transform="rotate(10 41.9 567.0)" fill="none" stroke="#1fae22" stroke-width="4.6" opacity="0.35"/><ellipse cx="64.4" cy="546.1" rx="8.1" ry="7.1" transform="rotate(0 64.4 546.1)" fill="none" stroke="#1fae22" stroke-width="4.6" opacity="0.25"/><ellipse cx="199.7" cy="520.3" rx="4.8" ry="4.8" transform="rotate(0 199.7 520.3)" fill="none" stroke="#1fae22" stroke-width="4.6" opacity="0.20"/><ellipse cx="70.9" cy="610.5" rx="5.8" ry="4.5" transform="rotate(0 70.9 610.5)" fill="none" stroke="#1fae22" stroke-width="4.6" opacity="0.20"/><ellipse cx="183.6" cy="555.8" rx="8.1" ry="8.1" transform="rotate(0 183.6 555.8)" fill="none" stroke="#1fae22" stroke-width="4.6" opacity="0.17"/></g>
<g filter="url(#wob3)"><ellipse cx="37.0" cy="528.4" rx="10.3" ry="7.7" transform="rotate(-10 37.0 528.4)" fill="none" stroke="#46e044" stroke-width="1.30" opacity="0.74"/><ellipse cx="99.9" cy="531.6" rx="9.7" ry="7.7" transform="rotate(-10 99.9 531.6)" fill="none" stroke="#46e044" stroke-width="1.32" opacity="0.78"/><ellipse cx="172.4" cy="518.7" rx="9.3" ry="8.7" transform="rotate(0 172.4 518.7)" fill="none" stroke="#46e044" stroke-width="1.35" opacity="0.82"/><ellipse cx="149.8" cy="510.7" rx="12.2" ry="8.4" transform="rotate(15 149.8 510.7)" fill="none" stroke="#46e044" stroke-width="1.27" opacity="0.70"/><ellipse cx="207.8" cy="534.8" rx="6.8" ry="7.7" transform="rotate(0 207.8 534.8)" fill="none" stroke="#46e044" stroke-width="1.24" opacity="0.66"/><ellipse cx="209.4" cy="584.8" rx="5.5" ry="6.8" transform="rotate(0 209.4 584.8)" fill="none" stroke="#46e044" stroke-width="1.35" opacity="0.82"/><ellipse cx="157.9" cy="568.6" rx="12.9" ry="7.4" transform="rotate(-20 157.9 568.6)" fill="none" stroke="#46e044" stroke-width="1.21" opacity="0.61"/><ellipse cx="151.4" cy="589.6" rx="7.7" ry="7.7" transform="rotate(0 151.4 589.6)" fill="none" stroke="#46e044" stroke-width="1.19" opacity="0.57"/><ellipse cx="41.9" cy="567.0" rx="5.5" ry="8.1" transform="rotate(10 41.9 567.0)" fill="none" stroke="#46e044" stroke-width="1.19" opacity="0.57"/><ellipse cx="64.4" cy="546.1" rx="8.1" ry="7.1" transform="rotate(0 64.4 546.1)" fill="none" stroke="#46e044" stroke-width="1.08" opacity="0.41" stroke-dasharray="12 3 7 2"/><ellipse cx="199.7" cy="520.3" rx="4.8" ry="4.8" transform="rotate(0 199.7 520.3)" fill="none" stroke="#46e044" stroke-width="1.02" opacity="0.33" stroke-dasharray="12 3 7 2"/><ellipse cx="70.9" cy="610.5" rx="5.8" ry="4.5" transform="rotate(0 70.9 610.5)" fill="none" stroke="#46e044" stroke-width="1.02" opacity="0.33" stroke-dasharray="12 3 7 2"/><ellipse cx="183.6" cy="555.8" rx="8.1" ry="8.1" transform="rotate(0 183.6 555.8)" fill="none" stroke="#46e044" stroke-width="0.99" opacity="0.29" stroke-dasharray="12 3 7 2"/></g>
<circle cx="42.1" cy="606.9" r="0.7" fill="#3fd43f" opacity="0.51"/><circle cx="53.9" cy="630.6" r="0.8" fill="#3fd43f" opacity="0.53"/><circle cx="120.7" cy="502.4" r="0.4" fill="#3fd43f" opacity="0.45"/><circle cx="139.2" cy="464.0" r="0.8" fill="#3fd43f" opacity="0.38"/><circle cx="57.8" cy="457.8" r="0.9" fill="#3fd43f" opacity="0.66"/><circle cx="206.1" cy="589.9" r="0.4" fill="#3fd43f" opacity="0.43"/><circle cx="118.9" cy="474.7" r="0.9" fill="#3fd43f" opacity="0.45"/><circle cx="39.8" cy="636.4" r="0.5" fill="#3fd43f" opacity="0.76"/><circle cx="108.7" cy="575.2" r="0.6" fill="#3fd43f" opacity="0.52"/><circle cx="47.2" cy="456.6" r="0.8" fill="#3fd43f" opacity="0.38"/><circle cx="184.2" cy="496.1" r="0.9" fill="#3fd43f" opacity="0.74"/><circle cx="178.4" cy="623.7" r="0.7" fill="#3fd43f" opacity="0.65"/><circle cx="32.3" cy="557.7" r="0.8" fill="#3fd43f" opacity="0.36"/><circle cx="217.3" cy="652.5" r="0.6" fill="#3fd43f" opacity="0.45"/><circle cx="108.3" cy="536.9" r="0.9" fill="#3fd43f" opacity="0.46"/><circle cx="10.2" cy="469.5" r="0.8" fill="#3fd43f" opacity="0.80"/><circle cx="118.6" cy="561.3" r="0.7" fill="#3fd43f" opacity="0.66"/><circle cx="55.3" cy="588.3" r="0.7" fill="#3fd43f" opacity="0.59"/><circle cx="45.7" cy="487.2" r="0.6" fill="#3fd43f" opacity="0.76"/><circle cx="84.1" cy="585.6" r="0.6" fill="#3fd43f" opacity="0.31"/><circle cx="19.2" cy="635.5" r="0.8" fill="#3fd43f" opacity="0.46"/><circle cx="161.9" cy="603.7" r="0.8" fill="#3fd43f" opacity="0.78"/><circle cx="98.0" cy="675.9" r="0.9" fill="#3fd43f" opacity="0.57"/><circle cx="208.0" cy="561.1" r="0.6" fill="#3fd43f" opacity="0.39"/><circle cx="206.4" cy="485.4" r="0.4" fill="#3fd43f" opacity="0.69"/><circle cx="182.8" cy="559.3" r="0.8" fill="#3fd43f" opacity="0.28"/><circle cx="63.6" cy="514.8" r="0.6" fill="#3fd43f" opacity="0.34"/><circle cx="20.0" cy="525.9" r="0.8" fill="#3fd43f" opacity="0.79"/><circle cx="176.3" cy="558.4" r="0.5" fill="#3fd43f" opacity="0.78"/><circle cx="125.4" cy="615.9" r="0.4" fill="#3fd43f" opacity="0.37"/><circle cx="197.6" cy="631.2" r="0.8" fill="#3fd43f" opacity="0.58"/><circle cx="102.4" cy="581.9" r="0.8" fill="#3fd43f" opacity="0.42"/><circle cx="127.4" cy="511.6" r="0.8" fill="#3fd43f" opacity="0.26"/><circle cx="162.3" cy="667.8" r="0.4" fill="#3fd43f" opacity="0.58"/><circle cx="152.7" cy="644.2" r="0.7" fill="#3fd43f" opacity="0.39"/><circle cx="97.7" cy="668.9" r="0.9" fill="#3fd43f" opacity="0.32"/><circle cx="25.9" cy="469.6" r="0.4" fill="#3fd43f" opacity="0.50"/><circle cx="36.5" cy="647.8" r="0.7" fill="#3fd43f" opacity="0.32"/><circle cx="128.4" cy="522.7" r="0.6" fill="#3fd43f" opacity="0.37"/><circle cx="42.4" cy="490.4" r="0.6" fill="#3fd43f" opacity="0.64"/>
</g>
<rect x="249.2" y="445.0" width="237.0" height="236.4" fill="#000"/>
<g clip-path="url(#mc4)">
<g filter="url(#mg4)">
<rect x="249.2" y="445.0" width="237.0" height="236.4" fill="#fff" opacity="0.03"/>
<ellipse cx="370.4" cy="544.5" rx="135.3" ry="43.5" fill="#fff" opacity="0.106" transform="rotate(-18 370.4 544.5)"/>
<ellipse cx="454.2" cy="497.8" rx="45.1" ry="48.3" fill="#fff" opacity="0.077" transform="rotate(0 454.2 497.8)"/>
<ellipse cx="328.5" cy="546.1" rx="58.0" ry="32.2" fill="#fff" opacity="0.072" transform="rotate(0 328.5 546.1)"/>
<ellipse cx="376.9" cy="599.9" rx="17.1" ry="17.1" fill="#fff" opacity="0.27"/>
<ellipse cx="351.1" cy="525.2" rx="27.5" ry="11.6" fill="#fff" opacity="0.24"/>
<ellipse cx="318.9" cy="550.9" rx="16.5" ry="11.6" fill="#fff" opacity="0.22"/>
<ellipse cx="373.6" cy="550.9" rx="15.9" ry="18.3" fill="#fff" opacity="0.20"/>
<ellipse cx="296.3" cy="534.8" rx="17.7" ry="17.7" fill="#fff" opacity="0.16"/>
<ellipse cx="299.5" cy="565.4" rx="15.2" ry="13.4" fill="#fff" opacity="0.16"/>
<ellipse cx="291.5" cy="578.3" rx="9.7" ry="9.7" fill="#fff" opacity="0.24"/>
<ellipse cx="454.2" cy="531.6" rx="18.3" ry="18.3" fill="#fff" opacity="0.09"/>
<ellipse cx="415.5" cy="515.5" rx="21.4" ry="17.7" fill="#fff" opacity="0.09"/>
<ellipse cx="467.1" cy="462.3" rx="18.3" ry="21.4" fill="#fff" opacity="0.08"/>
<ellipse cx="286.7" cy="526.8" rx="15.2" ry="15.2" fill="#fff" opacity="0.09"/>
</g>
<g filter="url(#wob4)"><ellipse cx="376.9" cy="599.9" rx="7.4" ry="7.4" transform="rotate(0 376.9 599.9)" fill="#000" opacity="0.75"/><ellipse cx="351.1" cy="525.2" rx="12.9" ry="4.5" transform="rotate(-5 351.1 525.2)" fill="#000" opacity="0.71"/><ellipse cx="318.9" cy="550.9" rx="7.1" ry="4.5" transform="rotate(0 318.9 550.9)" fill="#000" opacity="0.67"/><ellipse cx="373.6" cy="550.9" rx="6.8" ry="8.1" transform="rotate(0 373.6 550.9)" fill="#000" opacity="0.65"/><ellipse cx="296.3" cy="534.8" rx="7.7" ry="7.7" transform="rotate(0 296.3 534.8)" fill="#000" opacity="0.59"/><ellipse cx="299.5" cy="565.4" rx="6.4" ry="5.5" transform="rotate(0 299.5 565.4)" fill="#000" opacity="0.59"/><ellipse cx="291.5" cy="578.3" rx="3.5" ry="3.5" transform="rotate(0 291.5 578.3)" fill="#000" opacity="0.71"/><ellipse cx="454.2" cy="531.6" rx="8.1" ry="8.1" transform="rotate(0 454.2 531.6)" fill="#000" opacity="0.49"/><ellipse cx="415.5" cy="515.5" rx="9.7" ry="7.7" transform="rotate(0 415.5 515.5)" fill="#000" opacity="0.49"/><ellipse cx="467.1" cy="462.3" rx="8.1" ry="9.7" transform="rotate(0 467.1 462.3)" fill="#000" opacity="0.47"/><ellipse cx="286.7" cy="526.8" rx="6.4" ry="6.4" transform="rotate(0 286.7 526.8)" fill="#000" opacity="0.49"/></g>
<g filter="url(#halo4)"><ellipse cx="376.9" cy="599.9" rx="7.4" ry="7.4" transform="rotate(0 376.9 599.9)" fill="none" stroke="#1fae22" stroke-width="4.6" opacity="0.50"/><ellipse cx="351.1" cy="525.2" rx="12.9" ry="4.5" transform="rotate(-5 351.1 525.2)" fill="none" stroke="#1fae22" stroke-width="4.6" opacity="0.45"/><ellipse cx="318.9" cy="550.9" rx="7.1" ry="4.5" transform="rotate(0 318.9 550.9)" fill="none" stroke="#1fae22" stroke-width="4.6" opacity="0.40"/><ellipse cx="373.6" cy="550.9" rx="6.8" ry="8.1" transform="rotate(0 373.6 550.9)" fill="none" stroke="#1fae22" stroke-width="4.6" opacity="0.38"/><ellipse cx="296.3" cy="534.8" rx="7.7" ry="7.7" transform="rotate(0 296.3 534.8)" fill="none" stroke="#1fae22" stroke-width="4.6" opacity="0.30"/><ellipse cx="299.5" cy="565.4" rx="6.4" ry="5.5" transform="rotate(0 299.5 565.4)" fill="none" stroke="#1fae22" stroke-width="4.6" opacity="0.30"/><ellipse cx="291.5" cy="578.3" rx="3.5" ry="3.5" transform="rotate(0 291.5 578.3)" fill="none" stroke="#1fae22" stroke-width="4.6" opacity="0.45"/><ellipse cx="454.2" cy="531.6" rx="8.1" ry="8.1" transform="rotate(0 454.2 531.6)" fill="none" stroke="#1fae22" stroke-width="4.6" opacity="0.17"/><ellipse cx="415.5" cy="515.5" rx="9.7" ry="7.7" transform="rotate(0 415.5 515.5)" fill="none" stroke="#1fae22" stroke-width="4.6" opacity="0.17"/><ellipse cx="467.1" cy="462.3" rx="8.1" ry="9.7" transform="rotate(0 467.1 462.3)" fill="none" stroke="#1fae22" stroke-width="4.6" opacity="0.15"/><ellipse cx="286.7" cy="526.8" rx="6.4" ry="6.4" transform="rotate(0 286.7 526.8)" fill="none" stroke="#1fae22" stroke-width="4.6" opacity="0.17"/></g>
<g filter="url(#wob4)"><ellipse cx="376.9" cy="599.9" rx="7.4" ry="7.4" transform="rotate(0 376.9 599.9)" fill="none" stroke="#46e044" stroke-width="1.35" opacity="0.82"/><ellipse cx="351.1" cy="525.2" rx="12.9" ry="4.5" transform="rotate(-5 351.1 525.2)" fill="none" stroke="#46e044" stroke-width="1.30" opacity="0.74"/><ellipse cx="318.9" cy="550.9" rx="7.1" ry="4.5" transform="rotate(0 318.9 550.9)" fill="none" stroke="#46e044" stroke-width="1.24" opacity="0.66"/><ellipse cx="373.6" cy="550.9" rx="6.8" ry="8.1" transform="rotate(0 373.6 550.9)" fill="none" stroke="#46e044" stroke-width="1.21" opacity="0.61"/><ellipse cx="296.3" cy="534.8" rx="7.7" ry="7.7" transform="rotate(0 296.3 534.8)" fill="none" stroke="#46e044" stroke-width="1.13" opacity="0.49" stroke-dasharray="12 3 7 2"/><ellipse cx="299.5" cy="565.4" rx="6.4" ry="5.5" transform="rotate(0 299.5 565.4)" fill="none" stroke="#46e044" stroke-width="1.13" opacity="0.49" stroke-dasharray="12 3 7 2"/><ellipse cx="291.5" cy="578.3" rx="3.5" ry="3.5" transform="rotate(0 291.5 578.3)" fill="none" stroke="#46e044" stroke-width="1.30" opacity="0.74"/><ellipse cx="454.2" cy="531.6" rx="8.1" ry="8.1" transform="rotate(0 454.2 531.6)" fill="none" stroke="#46e044" stroke-width="0.99" opacity="0.29" stroke-dasharray="12 3 7 2"/><ellipse cx="415.5" cy="515.5" rx="9.7" ry="7.7" transform="rotate(0 415.5 515.5)" fill="none" stroke="#46e044" stroke-width="0.99" opacity="0.29" stroke-dasharray="12 3 7 2"/><ellipse cx="467.1" cy="462.3" rx="8.1" ry="9.7" transform="rotate(0 467.1 462.3)" fill="none" stroke="#46e044" stroke-width="0.97" opacity="0.25" stroke-dasharray="12 3 7 2"/><ellipse cx="286.7" cy="526.8" rx="6.4" ry="6.4" transform="rotate(0 286.7 526.8)" fill="none" stroke="#46e044" stroke-width="0.99" opacity="0.29" stroke-dasharray="12 3 7 2"/></g>
<circle cx="383.9" cy="593.7" r="0.8" fill="#3fd43f" opacity="0.40"/><circle cx="402.8" cy="653.2" r="0.9" fill="#3fd43f" opacity="0.35"/><circle cx="402.7" cy="590.2" r="0.7" fill="#3fd43f" opacity="0.78"/><circle cx="374.2" cy="550.6" r="0.9" fill="#3fd43f" opacity="0.60"/><circle cx="321.8" cy="519.3" r="0.6" fill="#3fd43f" opacity="0.28"/><circle cx="392.6" cy="617.5" r="0.6" fill="#3fd43f" opacity="0.72"/><circle cx="466.6" cy="576.0" r="0.7" fill="#3fd43f" opacity="0.31"/><circle cx="265.1" cy="673.8" r="0.5" fill="#3fd43f" opacity="0.37"/><circle cx="459.3" cy="620.8" r="0.5" fill="#3fd43f" opacity="0.43"/><circle cx="308.3" cy="510.8" r="0.4" fill="#3fd43f" opacity="0.54"/><circle cx="322.5" cy="538.8" r="0.5" fill="#3fd43f" opacity="0.31"/><circle cx="259.8" cy="649.1" r="0.8" fill="#3fd43f" opacity="0.56"/><circle cx="280.8" cy="482.3" r="0.5" fill="#3fd43f" opacity="0.42"/><circle cx="265.5" cy="511.5" r="0.5" fill="#3fd43f" opacity="0.36"/><circle cx="403.2" cy="553.5" r="0.6" fill="#3fd43f" opacity="0.45"/><circle cx="376.7" cy="628.9" r="0.6" fill="#3fd43f" opacity="0.29"/><circle cx="363.4" cy="535.4" r="0.8" fill="#3fd43f" opacity="0.31"/><circle cx="453.8" cy="451.4" r="0.7" fill="#3fd43f" opacity="0.49"/><circle cx="325.0" cy="652.8" r="0.8" fill="#3fd43f" opacity="0.34"/><circle cx="366.5" cy="589.1" r="0.4" fill="#3fd43f" opacity="0.30"/><circle cx="391.2" cy="616.1" r="0.6" fill="#3fd43f" opacity="0.48"/><circle cx="369.3" cy="508.0" r="0.8" fill="#3fd43f" opacity="0.78"/><circle cx="363.5" cy="452.7" r="0.6" fill="#3fd43f" opacity="0.69"/><circle cx="327.3" cy="472.3" r="0.5" fill="#3fd43f" opacity="0.64"/><circle cx="395.9" cy="513.9" r="0.7" fill="#3fd43f" opacity="0.67"/><circle cx="475.4" cy="639.5" r="0.6" fill="#3fd43f" opacity="0.70"/><circle cx="466.0" cy="648.2" r="0.8" fill="#3fd43f" opacity="0.57"/><circle cx="370.3" cy="643.9" r="0.7" fill="#3fd43f" opacity="0.65"/><circle cx="304.8" cy="469.2" r="0.5" fill="#3fd43f" opacity="0.57"/><circle cx="384.6" cy="493.8" r="0.5" fill="#3fd43f" opacity="0.77"/><circle cx="268.7" cy="661.4" r="0.8" fill="#3fd43f" opacity="0.57"/><circle cx="482.2" cy="604.6" r="0.4" fill="#3fd43f" opacity="0.77"/><circle cx="347.7" cy="659.2" r="0.8" fill="#3fd43f" opacity="0.33"/><circle cx="261.4" cy="452.8" r="0.8" fill="#3fd43f" opacity="0.69"/><circle cx="304.9" cy="474.0" r="0.6" fill="#3fd43f" opacity="0.69"/><circle cx="423.3" cy="647.8" r="0.9" fill="#3fd43f" opacity="0.67"/><circle cx="445.2" cy="451.8" r="0.4" fill="#3fd43f" opacity="0.72"/><circle cx="395.1" cy="523.3" r="0.5" fill="#3fd43f" opacity="0.43"/><circle cx="330.5" cy="562.2" r="0.6" fill="#3fd43f" opacity="0.36"/><circle cx="271.2" cy="494.8" r="0.5" fill="#3fd43f" opacity="0.31"/>
</g>
<text x="5.50" y="214.60" font-size="17.25" text-anchor="start" font-weight="normal" fill="#ffffff" >WT mice</text>
<text x="231.50" y="214.60" font-size="17" text-anchor="end" font-weight="normal" fill="#ffffff" >WFA</text>
<text x="5.20" y="428.90" font-size="17" text-anchor="start" font-weight="normal" fill="#ffffff" >Ctr (B)</text>
<text x="253.90" y="428.90" font-size="17" text-anchor="start" font-weight="normal" fill="#ffffff" >Beam</text>
<text x="5.20" y="676.40" font-size="17" text-anchor="start" font-weight="normal" fill="#ffffff" >Ctr (P)</text>
<text x="253.90" y="676.40" font-size="17" text-anchor="start" font-weight="normal" fill="#ffffff" >Pellet</text>
<rect x="199.7" y="422.9" width="30.7" height="3.8" fill="#fff"/>
<rect x="447.9" y="422.9" width="30.7" height="3.8" fill="#fff"/>
<rect x="199.7" y="670.6" width="30.7" height="3.8" fill="#fff"/>
<rect x="447.9" y="670.6" width="30.7" height="3.8" fill="#fff"/>
<path d="M589.0 401.6 V247.6 H626.0 V401.6" fill="#fff" stroke="#000" stroke-width="2.2"/>
<path d="M648.2 401.6 V272.1 H685.2 V401.6" fill="#fff" stroke="#000" stroke-width="2.2"/>
<path d="M607.6 241.1 V252.2 M598.1 241.1 H617.1 M598.1 252.2 H617.1" fill="none" stroke="#000" stroke-width="2.2"/>
<path d="M666.6 266.6 V276.4 M657.1 266.6 H676.1 M657.1 276.4 H676.1" fill="none" stroke="#000" stroke-width="2.2"/>
<path d="M569.0 194.6 V402.6 M559.8 401.6 H706.5" fill="none" stroke="#000" stroke-width="2.2"/>
<text x="557.10" y="407.60" font-size="17" text-anchor="end" font-weight="normal" fill="#000" >0</text>
<path d="M559.8 360.4 H569.0" stroke="#000" stroke-width="2.2"/>
<text x="557.10" y="366.40" font-size="17" text-anchor="end" font-weight="normal" fill="#000" >20</text>
<path d="M559.8 319.2 H569.0" stroke="#000" stroke-width="2.2"/>
<text x="557.10" y="325.20" font-size="17" text-anchor="end" font-weight="normal" fill="#000" >40</text>
<path d="M559.8 278.0 H569.0" stroke="#000" stroke-width="2.2"/>
<text x="557.10" y="284.00" font-size="17" text-anchor="end" font-weight="normal" fill="#000" >60</text>
<path d="M559.8 236.8 H569.0" stroke="#000" stroke-width="2.2"/>
<text x="557.10" y="242.80" font-size="17" text-anchor="end" font-weight="normal" fill="#000" >80</text>
<path d="M559.8 195.6 H569.0" stroke="#000" stroke-width="2.2"/>
<text x="557.10" y="201.60" font-size="17" text-anchor="end" font-weight="normal" fill="#000" >100</text>
<circle cx="592.2" cy="230.2" r="4.4" fill="#0000ff"/>
<circle cx="607.6" cy="236.3" r="4.4" fill="#0000ff"/>
<circle cx="592.2" cy="244.5" r="4.4" fill="#0000ff"/>
<circle cx="623.1" cy="247.9" r="4.4" fill="#0000ff"/>
<circle cx="607.6" cy="254.2" r="4.4" fill="#0000ff"/>
<circle cx="607.6" cy="267.2" r="4.4" fill="#0000ff"/>
<rect x="662.55" y="251.40" width="8.1" height="8.1" fill="#ff0000"/>
<rect x="677.75" y="262.70" width="8.1" height="8.1" fill="#ff0000"/>
<rect x="662.55" y="270.00" width="8.1" height="8.1" fill="#ff0000"/>
<rect x="647.05" y="277.00" width="8.1" height="8.1" fill="#ff0000"/>
<rect x="677.75" y="274.80" width="8.1" height="8.1" fill="#ff0000"/>
<path d="M607.6 212.6 V203.0 H665.9 V212.6" fill="none" stroke="#000" stroke-width="2.2"/>
<path d="M630.20 183.10 L630.20 192.90M625.96 185.55 L634.44 190.45M634.44 185.55 L625.96 190.45" stroke="#000" stroke-width="2.7" fill="none"/>
<path d="M642.70 183.10 L642.70 192.90M638.46 185.55 L646.94 190.45M646.94 185.55 L638.46 190.45" stroke="#000" stroke-width="2.7" fill="none"/>
<text x="607.40" y="427.90" font-size="17.25" text-anchor="middle" font-weight="normal" fill="#000" >Ctr (B)</text>
<text x="666.60" y="427.90" font-size="17.25" text-anchor="middle" font-weight="normal" fill="#000" >Beam</text>
<text transform="translate(519.2 381.6) rotate(-90)" font-size="17">WFA<tspan font-size="12.3" dy="-7.2" dx="0.6">+</tspan><tspan dy="7.2" dx="0.6"> cells per 1 mm</tspan><tspan font-size="12.3" dy="-7.0" dx="0.3">2</tspan></text>
<path d="M589.0 662.6 V501.8 H626.0 V662.6" fill="#fff" stroke="#000" stroke-width="2.2"/>
<path d="M648.2 662.6 V524.9 H685.2 V662.6" fill="#fff" stroke="#000" stroke-width="2.2"/>
<path d="M607.6 494.6 V506.8 M598.1 494.6 H617.1 M598.1 506.8 H617.1" fill="none" stroke="#000" stroke-width="2.2"/>
<path d="M666.6 521.2 V527.8 M657.1 521.2 H676.1 M657.1 527.8 H676.1" fill="none" stroke="#000" stroke-width="2.2"/>
<path d="M569.0 455.4 V663.6 M559.8 662.6 H706.5" fill="none" stroke="#000" stroke-width="2.2"/>
<text x="557.10" y="668.60" font-size="17" text-anchor="end" font-weight="normal" fill="#000" >0</text>
<path d="M559.8 621.4 H569.0" stroke="#000" stroke-width="2.2"/>
<text x="557.10" y="627.36" font-size="17" text-anchor="end" font-weight="normal" fill="#000" >20</text>
<path d="M559.8 580.1 H569.0" stroke="#000" stroke-width="2.2"/>
<text x="557.10" y="586.12" font-size="17" text-anchor="end" font-weight="normal" fill="#000" >40</text>
<path d="M559.8 538.9 H569.0" stroke="#000" stroke-width="2.2"/>
<text x="557.10" y="544.88" font-size="17" text-anchor="end" font-weight="normal" fill="#000" >60</text>
<path d="M559.8 497.6 H569.0" stroke="#000" stroke-width="2.2"/>
<text x="557.10" y="503.64" font-size="17" text-anchor="end" font-weight="normal" fill="#000" >80</text>
<path d="M559.8 456.4 H569.0" stroke="#000" stroke-width="2.2"/>
<text x="557.10" y="462.40" font-size="17" text-anchor="end" font-weight="normal" fill="#000" >100</text>
<circle cx="607.6" cy="488.1" r="4.4" fill="#0000ff"/>
<circle cx="592.2" cy="495.1" r="4.4" fill="#0000ff"/>
<circle cx="623.1" cy="495.8" r="4.4" fill="#0000ff"/>
<circle cx="607.6" cy="501.1" r="4.4" fill="#0000ff"/>
<circle cx="607.6" cy="523.7" r="4.4" fill="#0000ff"/>
<path d="M651.1 508.4 L655.6 517.1 L646.6 517.1Z" fill="#00c400"/>
<path d="M651.1 520.5 L655.6 529.2 L646.6 529.2Z" fill="#00c400"/>
<path d="M681.8 515.2 L686.3 524.0 L677.3 524.0Z" fill="#00c400"/>
<path d="M666.6 524.8 L671.1 533.6 L662.1 533.6Z" fill="#00c400"/>
<path d="M681.8 524.8 L686.3 533.6 L677.3 533.6Z" fill="#00c400"/>
<path d="M651.1 529.7 L655.6 538.5 L646.6 538.5Z" fill="#00c400"/>
<path d="M607.6 473.2 V463.5 H665.9 V473.2" fill="none" stroke="#000" stroke-width="2.2"/>
<path d="M630.20 443.90 L630.20 453.70M625.96 446.35 L634.44 451.25M634.44 446.35 L625.96 451.25" stroke="#000" stroke-width="2.7" fill="none"/>
<path d="M642.70 443.90 L642.70 453.70M638.46 446.35 L646.94 451.25M646.94 446.35 L638.46 451.25" stroke="#000" stroke-width="2.7" fill="none"/>
<text x="607.40" y="688.90" font-size="17.25" text-anchor="middle" font-weight="normal" fill="#000" >Ctr (P)</text>
<text x="666.60" y="688.90" font-size="17.25" text-anchor="middle" font-weight="normal" fill="#000" >Pellet</text>
<text transform="translate(519.2 642.5) rotate(-90)" font-size="17">WFA<tspan font-size="12.3" dy="-7.2" dx="0.6">+</tspan><tspan dy="7.2" dx="0.6"> cells per 1 mm</tspan><tspan font-size="12.3" dy="-7.0" dx="0.3">2</tspan></text>
<path d="M78.2 948.2 V845.0 H115.2 V948.2" fill="#fff" stroke="#000" stroke-width="2.2"/>
<path d="M137.4 948.2 V841.4 H174.4 V948.2" fill="#fff" stroke="#000" stroke-width="2.2"/>
<path d="M97.0 841.8 V848.6 M87.5 841.8 H106.5 M87.5 848.6 H106.5" fill="none" stroke="#000" stroke-width="2.2"/>
<path d="M156.0 839.9 V843.2 M146.5 839.9 H165.5 M146.5 843.2 H165.5" fill="none" stroke="#000" stroke-width="2.2"/>
<path d="M58.2 741.0 V949.2 M49.0 948.2 H195.7" fill="none" stroke="#000" stroke-width="2.2"/>
<text x="46.30" y="954.20" font-size="17" text-anchor="end" font-weight="normal" fill="#000" >0.0</text>
<path d="M49.0 896.7 H58.2" stroke="#000" stroke-width="2.2"/>
<text x="46.30" y="902.65" font-size="17" text-anchor="end" font-weight="normal" fill="#000" >0.5</text>
<path d="M49.0 845.1 H58.2" stroke="#000" stroke-width="2.2"/>
<text x="46.30" y="851.10" font-size="17" text-anchor="end" font-weight="normal" fill="#000" >1.0</text>
<path d="M49.0 793.5 H58.2" stroke="#000" stroke-width="2.2"/>
<text x="46.30" y="799.55" font-size="17" text-anchor="end" font-weight="normal" fill="#000" >1.5</text>
<path d="M49.0 742.0 H58.2" stroke="#000" stroke-width="2.2"/>
<text x="46.30" y="748.00" font-size="17" text-anchor="end" font-weight="normal" fill="#000" >2.0</text>
<circle cx="81.6" cy="840.4" r="4.4" fill="#0000ff"/>
<circle cx="97.1" cy="840.9" r="4.4" fill="#0000ff"/>
<circle cx="105.0" cy="834.6" r="4.4" fill="#0000ff"/>
<circle cx="89.3" cy="847.4" r="4.4" fill="#0000ff"/>
<circle cx="105.0" cy="848.2" r="4.4" fill="#0000ff"/>
<circle cx="112.8" cy="847.0" r="4.4" fill="#0000ff"/>
<circle cx="89.3" cy="855.2" r="4.4" fill="#0000ff"/>
<rect x="136.75" y="824.05" width="8.1" height="8.1" fill="#ff0000"/>
<rect x="147.15" y="829.65" width="8.1" height="8.1" fill="#ff0000"/>
<rect x="167.65" y="830.15" width="8.1" height="8.1" fill="#ff0000"/>
<rect x="136.75" y="836.65" width="8.1" height="8.1" fill="#ff0000"/>
<rect x="157.55" y="834.25" width="8.1" height="8.1" fill="#ff0000"/>
<rect x="167.65" y="840.95" width="8.1" height="8.1" fill="#ff0000"/>
<rect x="157.55" y="843.35" width="8.1" height="8.1" fill="#ff0000"/>
<rect x="136.75" y="848.75" width="8.1" height="8.1" fill="#ff0000"/>
<path d="M96.8 812.3 V800.3 H155.1 V812.3" fill="none" stroke="#000" stroke-width="2.2"/>
<text x="125.85" y="790.00" font-size="16.6" text-anchor="middle" font-weight="normal" fill="#000" >ns</text>
<text x="96.60" y="974.50" font-size="17.25" text-anchor="middle" font-weight="normal" fill="#000" >Ctr (B)</text>
<text x="155.80" y="974.50" font-size="17.25" text-anchor="middle" font-weight="normal" fill="#000" >Beam</text>
<text transform="translate(12.9 844.7) rotate(-90)" font-size="16.2" text-anchor="middle">Relative mRNA levels</text>
<text x="126.20" y="718.70" font-size="17" text-anchor="middle" font-weight="normal" fill="#000" >Aggrecan</text>
<path d="M326.7 948.2 V845.0 H363.7 V948.2" fill="#fff" stroke="#000" stroke-width="2.2"/>
<path d="M385.9 948.2 V848.4 H422.9 V948.2" fill="#fff" stroke="#000" stroke-width="2.2"/>
<path d="M345.6 839.4 V849.6 M336.1 839.4 H355.1 M336.1 849.6 H355.1" fill="none" stroke="#000" stroke-width="2.2"/>
<path d="M404.3 839.9 V856.9 M394.8 839.9 H413.8 M394.8 856.9 H413.8" fill="none" stroke="#000" stroke-width="2.2"/>
<path d="M306.7 741.0 V949.2 M297.5 948.2 H444.2" fill="none" stroke="#000" stroke-width="2.2"/>
<text x="294.80" y="954.20" font-size="17" text-anchor="end" font-weight="normal" fill="#000" >0.0</text>
<path d="M297.5 896.7 H306.7" stroke="#000" stroke-width="2.2"/>
<text x="294.80" y="902.65" font-size="17" text-anchor="end" font-weight="normal" fill="#000" >0.5</text>
<path d="M297.5 845.1 H306.7" stroke="#000" stroke-width="2.2"/>
<text x="294.80" y="851.10" font-size="17" text-anchor="end" font-weight="normal" fill="#000" >1.0</text>
<path d="M297.5 793.5 H306.7" stroke="#000" stroke-width="2.2"/>
<text x="294.80" y="799.55" font-size="17" text-anchor="end" font-weight="normal" fill="#000" >1.5</text>
<path d="M297.5 742.0 H306.7" stroke="#000" stroke-width="2.2"/>
<text x="294.80" y="748.00" font-size="17" text-anchor="end" font-weight="normal" fill="#000" >2.0</text>
<circle cx="330.2" cy="832.0" r="4.4" fill="#0000ff"/>
<circle cx="345.6" cy="834.6" r="4.4" fill="#0000ff"/>
<circle cx="361.1" cy="835.6" r="4.4" fill="#0000ff"/>
<circle cx="330.2" cy="841.9" r="4.4" fill="#0000ff"/>
<circle cx="361.1" cy="843.6" r="4.4" fill="#0000ff"/>
<circle cx="361.1" cy="858.0" r="4.4" fill="#0000ff"/>
<circle cx="330.2" cy="865.8" r="4.4" fill="#0000ff"/>
<rect x="405.55" y="809.35" width="8.1" height="8.1" fill="#ff0000"/>
<rect x="395.25" y="827.95" width="8.1" height="8.1" fill="#ff0000"/>
<rect x="395.25" y="837.85" width="8.1" height="8.1" fill="#ff0000"/>
<rect x="384.85" y="845.55" width="8.1" height="8.1" fill="#ff0000"/>
<rect x="415.75" y="843.65" width="8.1" height="8.1" fill="#ff0000"/>
<rect x="395.25" y="851.15" width="8.1" height="8.1" fill="#ff0000"/>
<rect x="405.55" y="849.65" width="8.1" height="8.1" fill="#ff0000"/>
<rect x="395.25" y="883.75" width="8.1" height="8.1" fill="#ff0000"/>
<path d="M345.3 792.0 V780.0 H403.6 V792.0" fill="none" stroke="#000" stroke-width="2.2"/>
<text x="374.35" y="769.40" font-size="16.6" text-anchor="middle" font-weight="normal" fill="#000" >ns</text>
<text x="345.10" y="974.50" font-size="17.25" text-anchor="middle" font-weight="normal" fill="#000" >Ctr (B)</text>
<text x="404.30" y="974.50" font-size="17.25" text-anchor="middle" font-weight="normal" fill="#000" >Beam</text>
<text transform="translate(261.4 844.7) rotate(-90)" font-size="16.2" text-anchor="middle">Relative mRNA levels</text>
<text x="374.70" y="718.70" font-size="17" text-anchor="middle" font-weight="normal" fill="#000" >Brevican</text>
<path d="M579.6 948.2 V845.0 H616.6 V948.2" fill="#fff" stroke="#000" stroke-width="2.2"/>
<path d="M638.8 948.2 V843.1 H675.8 V948.2" fill="#fff" stroke="#000" stroke-width="2.2"/>
<path d="M598.8 840.4 V848.9 M589.3 840.4 H608.3 M589.3 848.9 H608.3" fill="none" stroke="#000" stroke-width="2.2"/>
<path d="M657.7 835.8 V849.6 M648.2 835.8 H667.2 M648.2 849.6 H667.2" fill="none" stroke="#000" stroke-width="2.2"/>
<path d="M559.6 741.0 V949.2 M550.4 948.2 H697.1" fill="none" stroke="#000" stroke-width="2.2"/>
<text x="547.70" y="954.20" font-size="17" text-anchor="end" font-weight="normal" fill="#000" >0.0</text>
<path d="M550.4 896.7 H559.6" stroke="#000" stroke-width="2.2"/>
<text x="547.70" y="902.65" font-size="17" text-anchor="end" font-weight="normal" fill="#000" >0.5</text>
<path d="M550.4 845.1 H559.6" stroke="#000" stroke-width="2.2"/>
<text x="547.70" y="851.10" font-size="17" text-anchor="end" font-weight="normal" fill="#000" >1.0</text>
<path d="M550.4 793.5 H559.6" stroke="#000" stroke-width="2.2"/>
<text x="547.70" y="799.55" font-size="17" text-anchor="end" font-weight="normal" fill="#000" >1.5</text>
<path d="M550.4 742.0 H559.6" stroke="#000" stroke-width="2.2"/>
<text x="547.70" y="748.00" font-size="17" text-anchor="end" font-weight="normal" fill="#000" >2.0</text>
<circle cx="598.8" cy="832.7" r="4.4" fill="#0000ff"/>
<circle cx="614.2" cy="833.9" r="4.4" fill="#0000ff"/>
<circle cx="583.3" cy="844.0" r="4.4" fill="#0000ff"/>
<circle cx="598.8" cy="841.1" r="4.4" fill="#0000ff"/>
<circle cx="614.2" cy="846.7" r="4.4" fill="#0000ff"/>
<circle cx="598.8" cy="852.0" r="4.4" fill="#0000ff"/>
<circle cx="598.8" cy="862.9" r="4.4" fill="#0000ff"/>
<rect x="653.65" y="803.75" width="8.1" height="8.1" fill="#ff0000"/>
<rect x="668.85" y="829.35" width="8.1" height="8.1" fill="#ff0000"/>
<rect x="637.95" y="836.65" width="8.1" height="8.1" fill="#ff0000"/>
<rect x="653.65" y="836.65" width="8.1" height="8.1" fill="#ff0000"/>
<rect x="668.85" y="839.55" width="8.1" height="8.1" fill="#ff0000"/>
<rect x="653.65" y="846.05" width="8.1" height="8.1" fill="#ff0000"/>
<rect x="668.85" y="855.25" width="8.1" height="8.1" fill="#ff0000"/>
<rect x="637.95" y="860.05" width="8.1" height="8.1" fill="#ff0000"/>
<path d="M598.2 787.4 V775.4 H656.5 V787.4" fill="none" stroke="#000" stroke-width="2.2"/>
<text x="627.25" y="765.30" font-size="16.6" text-anchor="middle" font-weight="normal" fill="#000" >ns</text>
<text x="598.00" y="974.50" font-size="17.25" text-anchor="middle" font-weight="normal" fill="#000" >Ctr (B)</text>
<text x="657.20" y="974.50" font-size="17.25" text-anchor="middle" font-weight="normal" fill="#000" >Beam</text>
<text transform="translate(514.3 844.7) rotate(-90)" font-size="16.2" text-anchor="middle">Relative mRNA levels</text>
<text x="627.60" y="718.70" font-size="17" text-anchor="middle" font-weight="normal" fill="#000" >Neurocan</text>
<path d="M78.2 1196.0 V1092.3 H115.2 V1196.0" fill="#fff" stroke="#000" stroke-width="2.2"/>
<path d="M137.4 1196.0 V1096.7 H174.4 V1196.0" fill="#fff" stroke="#000" stroke-width="2.2"/>
<path d="M97.3 1086.8 V1097.8 M87.8 1086.8 H106.8 M87.8 1097.8 H106.8" fill="none" stroke="#000" stroke-width="2.2"/>
<path d="M156.5 1088.7 V1103.2 M147.0 1088.7 H166.0 M147.0 1103.2 H166.0" fill="none" stroke="#000" stroke-width="2.2"/>
<path d="M58.2 988.7 V1197.0 M49.0 1196.0 H195.7" fill="none" stroke="#000" stroke-width="2.2"/>
<text x="46.30" y="1202.00" font-size="17" text-anchor="end" font-weight="normal" fill="#000" >0.0</text>
<path d="M49.0 1144.4 H58.2" stroke="#000" stroke-width="2.2"/>
<text x="46.30" y="1150.42" font-size="17" text-anchor="end" font-weight="normal" fill="#000" >0.5</text>
<path d="M49.0 1092.8 H58.2" stroke="#000" stroke-width="2.2"/>
<text x="46.30" y="1098.85" font-size="17" text-anchor="end" font-weight="normal" fill="#000" >1.0</text>
<path d="M49.0 1041.3 H58.2" stroke="#000" stroke-width="2.2"/>
<text x="46.30" y="1047.28" font-size="17" text-anchor="end" font-weight="normal" fill="#000" >1.5</text>
<path d="M49.0 989.7 H58.2" stroke="#000" stroke-width="2.2"/>
<text x="46.30" y="995.70" font-size="17" text-anchor="end" font-weight="normal" fill="#000" >2.0</text>
<circle cx="92.0" cy="1069.9" r="4.4" fill="#0000ff"/>
<circle cx="102.6" cy="1079.8" r="4.4" fill="#0000ff"/>
<circle cx="102.6" cy="1088.7" r="4.4" fill="#0000ff"/>
<circle cx="92.0" cy="1092.8" r="4.4" fill="#0000ff"/>
<circle cx="81.6" cy="1096.5" r="4.4" fill="#0000ff"/>
<circle cx="113.0" cy="1095.0" r="4.4" fill="#0000ff"/>
<circle cx="102.6" cy="1100.8" r="4.4" fill="#0000ff"/>
<circle cx="92.0" cy="1111.2" r="4.4" fill="#0000ff"/>
<path d="M156.5 1069.3 L161.0 1078.1 L152.0 1078.1Z" fill="#00c400"/>
<path d="M172.2 1068.6 L176.7 1077.4 L167.7 1077.4Z" fill="#00c400"/>
<path d="M156.5 1081.9 L161.0 1090.7 L152.0 1090.7Z" fill="#00c400"/>
<path d="M172.2 1087.9 L176.7 1096.7 L167.7 1096.7Z" fill="#00c400"/>
<path d="M140.8 1092.1 L145.3 1100.9 L136.3 1100.9Z" fill="#00c400"/>
<path d="M156.5 1097.6 L161.0 1106.4 L152.0 1106.4Z" fill="#00c400"/>
<path d="M156.5 1112.1 L161.0 1120.9 L152.0 1120.9Z" fill="#00c400"/>
<path d="M156.5 1126.1 L161.0 1134.9 L152.0 1134.9Z" fill="#00c400"/>
<path d="M96.8 1053.1 V1041.1 H155.1 V1053.1" fill="none" stroke="#000" stroke-width="2.2"/>
<text x="125.85" y="1031.50" font-size="16.6" text-anchor="middle" font-weight="normal" fill="#000" >ns</text>
<text x="96.60" y="1222.30" font-size="17.25" text-anchor="middle" font-weight="normal" fill="#000" >Ctr (P)</text>
<text x="155.80" y="1222.30" font-size="17.25" text-anchor="middle" font-weight="normal" fill="#000" >Pellet</text>
<text transform="translate(12.9 1092.4) rotate(-90)" font-size="16.2" text-anchor="middle">Relative mRNA levels</text>
<path d="M326.7 1196.0 V1092.3 H363.7 V1196.0" fill="#fff" stroke="#000" stroke-width="2.2"/>
<path d="M385.9 1196.0 V1081.5 H422.9 V1196.0" fill="#fff" stroke="#000" stroke-width="2.2"/>
<path d="M345.6 1086.8 V1096.7 M336.1 1086.8 H355.1 M336.1 1096.7 H355.1" fill="none" stroke="#000" stroke-width="2.2"/>
<path d="M404.3 1074.2 V1088.0 M394.8 1074.2 H413.8 M394.8 1088.0 H413.8" fill="none" stroke="#000" stroke-width="2.2"/>
<path d="M306.7 988.7 V1197.0 M297.5 1196.0 H444.2" fill="none" stroke="#000" stroke-width="2.2"/>
<text x="294.80" y="1202.00" font-size="17" text-anchor="end" font-weight="normal" fill="#000" >0.0</text>
<path d="M297.5 1144.4 H306.7" stroke="#000" stroke-width="2.2"/>
<text x="294.80" y="1150.42" font-size="17" text-anchor="end" font-weight="normal" fill="#000" >0.5</text>
<path d="M297.5 1092.8 H306.7" stroke="#000" stroke-width="2.2"/>
<text x="294.80" y="1098.85" font-size="17" text-anchor="end" font-weight="normal" fill="#000" >1.0</text>
<path d="M297.5 1041.3 H306.7" stroke="#000" stroke-width="2.2"/>
<text x="294.80" y="1047.28" font-size="17" text-anchor="end" font-weight="normal" fill="#000" >1.5</text>
<path d="M297.5 989.7 H306.7" stroke="#000" stroke-width="2.2"/>
<text x="294.80" y="995.70" font-size="17" text-anchor="end" font-weight="normal" fill="#000" >2.0</text>
<circle cx="345.6" cy="1071.8" r="4.4" fill="#0000ff"/>
<circle cx="330.2" cy="1077.1" r="4.4" fill="#0000ff"/>
<circle cx="345.6" cy="1085.6" r="4.4" fill="#0000ff"/>
<circle cx="330.2" cy="1088.0" r="4.4" fill="#0000ff"/>
<circle cx="361.1" cy="1092.3" r="4.4" fill="#0000ff"/>
<circle cx="345.6" cy="1098.4" r="4.4" fill="#0000ff"/>
<circle cx="361.1" cy="1106.8" r="4.4" fill="#0000ff"/>
<circle cx="330.2" cy="1112.2" r="4.4" fill="#0000ff"/>
<path d="M399.5 1040.3 L404.0 1049.1 L395.0 1049.1Z" fill="#00c400"/>
<path d="M399.5 1058.5 L404.0 1067.3 L395.0 1067.3Z" fill="#00c400"/>
<path d="M409.6 1079.0 L414.1 1087.8 L405.1 1087.8Z" fill="#00c400"/>
<path d="M399.5 1083.6 L404.0 1092.4 L395.0 1092.4Z" fill="#00c400"/>
<path d="M419.8 1084.8 L424.3 1093.6 L415.3 1093.6Z" fill="#00c400"/>
<path d="M388.9 1086.3 L393.4 1095.1 L384.4 1095.1Z" fill="#00c400"/>
<path d="M409.6 1087.9 L414.1 1096.7 L405.1 1096.7Z" fill="#00c400"/>
<path d="M399.5 1094.7 L404.0 1103.5 L395.0 1103.5Z" fill="#00c400"/>
<path d="M345.3 1028.7 V1016.7 H403.6 V1028.7" fill="none" stroke="#000" stroke-width="2.2"/>
<text x="374.35" y="1006.40" font-size="16.6" text-anchor="middle" font-weight="normal" fill="#000" >ns</text>
<text x="345.10" y="1222.30" font-size="17.25" text-anchor="middle" font-weight="normal" fill="#000" >Ctr (P)</text>
<text x="404.30" y="1222.30" font-size="17.25" text-anchor="middle" font-weight="normal" fill="#000" >Pellet</text>
<text transform="translate(261.4 1092.4) rotate(-90)" font-size="16.2" text-anchor="middle">Relative mRNA levels</text>
<path d="M579.6 1196.0 V1092.3 H616.6 V1196.0" fill="#fff" stroke="#000" stroke-width="2.2"/>
<path d="M638.8 1196.0 V1096.7 H675.8 V1196.0" fill="#fff" stroke="#000" stroke-width="2.2"/>
<path d="M598.8 1088.0 V1096.0 M589.3 1088.0 H608.3 M589.3 1096.0 H608.3" fill="none" stroke="#000" stroke-width="2.2"/>
<path d="M657.7 1089.2 V1103.2 M648.2 1089.2 H667.2 M648.2 1103.2 H667.2" fill="none" stroke="#000" stroke-width="2.2"/>
<path d="M559.6 988.7 V1197.0 M550.4 1196.0 H697.1" fill="none" stroke="#000" stroke-width="2.2"/>
<text x="547.70" y="1202.00" font-size="17" text-anchor="end" font-weight="normal" fill="#000" >0.0</text>
<path d="M550.4 1144.4 H559.6" stroke="#000" stroke-width="2.2"/>
<text x="547.70" y="1150.42" font-size="17" text-anchor="end" font-weight="normal" fill="#000" >0.5</text>
<path d="M550.4 1092.8 H559.6" stroke="#000" stroke-width="2.2"/>
<text x="547.70" y="1098.85" font-size="17" text-anchor="end" font-weight="normal" fill="#000" >1.0</text>
<path d="M550.4 1041.3 H559.6" stroke="#000" stroke-width="2.2"/>
<text x="547.70" y="1047.28" font-size="17" text-anchor="end" font-weight="normal" fill="#000" >1.5</text>
<path d="M550.4 989.7 H559.6" stroke="#000" stroke-width="2.2"/>
<text x="547.70" y="995.70" font-size="17" text-anchor="end" font-weight="normal" fill="#000" >2.0</text>
<circle cx="598.8" cy="1072.3" r="4.4" fill="#0000ff"/>
<circle cx="583.3" cy="1084.6" r="4.4" fill="#0000ff"/>
<circle cx="598.8" cy="1087.0" r="4.4" fill="#0000ff"/>
<circle cx="614.2" cy="1091.1" r="4.4" fill="#0000ff"/>
<circle cx="583.3" cy="1094.8" r="4.4" fill="#0000ff"/>
<circle cx="598.8" cy="1098.9" r="4.4" fill="#0000ff"/>
<circle cx="614.2" cy="1102.0" r="4.4" fill="#0000ff"/>
<circle cx="583.3" cy="1105.6" r="4.4" fill="#0000ff"/>
<path d="M652.6 1059.0 L657.1 1067.8 L648.1 1067.8Z" fill="#00c400"/>
<path d="M662.8 1082.6 L667.3 1091.4 L658.3 1091.4Z" fill="#00c400"/>
<path d="M673.2 1083.6 L677.7 1092.4 L668.7 1092.4Z" fill="#00c400"/>
<path d="M642.3 1087.9 L646.8 1096.7 L637.8 1096.7Z" fill="#00c400"/>
<path d="M652.6 1091.6 L657.1 1100.4 L648.1 1100.4Z" fill="#00c400"/>
<path d="M662.8 1104.9 L667.3 1113.7 L658.3 1113.7Z" fill="#00c400"/>
<path d="M652.6 1107.3 L657.1 1116.1 L648.1 1116.1Z" fill="#00c400"/>
<path d="M652.6 1122.5 L657.1 1131.3 L648.1 1131.3Z" fill="#00c400"/>
<path d="M598.2 1041.5 V1029.5 H656.5 V1041.5" fill="none" stroke="#000" stroke-width="2.2"/>
<text x="627.25" y="1019.00" font-size="16.6" text-anchor="middle" font-weight="normal" fill="#000" >ns</text>
<text x="598.00" y="1222.30" font-size="17.25" text-anchor="middle" font-weight="normal" fill="#000" >Ctr (P)</text>
<text x="657.20" y="1222.30" font-size="17.25" text-anchor="middle" font-weight="normal" fill="#000" >Pellet</text>
<text transform="translate(514.3 1092.4) rotate(-90)" font-size="16.2" text-anchor="middle">Relative mRNA levels</text>
<text x="0.10" y="19.30" font-size="21" text-anchor="start" font-weight="bold" fill="#000" >A</text>
<text x="454.10" y="19.30" font-size="21" text-anchor="start" font-weight="bold" fill="#000" >B</text>
<text x="0.00" y="188.60" font-size="21" text-anchor="start" font-weight="bold" fill="#000" >C</text>
<text x="-0.20" y="725.00" font-size="21" text-anchor="start" font-weight="bold" fill="#000" >D</text>
<text x="241.50" y="725.10" font-size="21" text-anchor="start" font-weight="bold" fill="#000" >E</text>
<text x="504.70" y="725.10" font-size="21" text-anchor="start" font-weight="bold" fill="#000" >F</text>
</svg>
</body></html>
